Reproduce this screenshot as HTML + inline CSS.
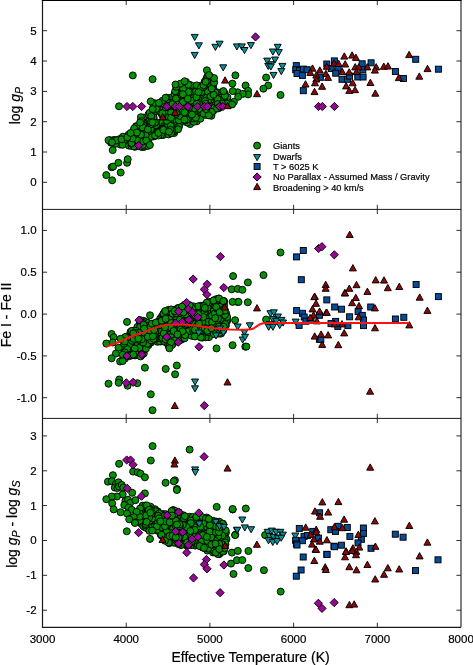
<!DOCTYPE html><html><head><meta charset="utf-8"><title>Effective Temperature plot</title>
<style>html,body{margin:0;padding:0;background:#fff}svg{display:block}text{font-family:"Liberation Sans",sans-serif;fill:#000;stroke:#000;stroke-width:0.2px}</style></head><body>
<svg width="473" height="665" viewBox="0 0 473 665">
<rect width="473" height="665" fill="#fff"/>
<g fill="#069006" stroke="#000" stroke-width="0.95" stroke-linejoin="miter"><circle cx="211.4" cy="89.1" r="3.5"/><circle cx="168.2" cy="124.2" r="3.5"/><circle cx="213.1" cy="86.8" r="3.5"/><circle cx="141.0" cy="120.8" r="3.5"/><circle cx="149.0" cy="124.8" r="3.5"/><circle cx="197.0" cy="114.0" r="3.5"/><circle cx="135.7" cy="143.1" r="3.5"/><circle cx="195.2" cy="102.5" r="3.5"/><circle cx="198.1" cy="96.4" r="3.5"/><circle cx="190.6" cy="107.2" r="3.5"/><circle cx="200.6" cy="98.2" r="3.5"/><circle cx="180.3" cy="122.9" r="3.5"/><circle cx="115.2" cy="143.5" r="3.5"/><circle cx="204.0" cy="102.2" r="3.5"/><circle cx="203.8" cy="89.2" r="3.5"/><circle cx="155.9" cy="132.6" r="3.5"/><circle cx="139.4" cy="132.4" r="3.5"/><circle cx="172.1" cy="110.9" r="3.5"/><circle cx="190.1" cy="96.0" r="3.5"/><circle cx="137.7" cy="145.6" r="3.5"/><circle cx="170.8" cy="97.8" r="3.5"/><circle cx="179.8" cy="94.9" r="3.5"/><circle cx="147.3" cy="141.9" r="3.5"/><circle cx="152.8" cy="126.9" r="3.5"/><circle cx="213.2" cy="111.1" r="3.5"/><circle cx="177.0" cy="125.0" r="3.5"/><circle cx="169.2" cy="121.4" r="3.5"/><circle cx="137.9" cy="132.7" r="3.5"/><circle cx="209.8" cy="76.2" r="3.5"/><circle cx="186.3" cy="119.1" r="3.5"/><circle cx="213.5" cy="102.2" r="3.5"/><circle cx="179.4" cy="95.6" r="3.5"/><circle cx="194.7" cy="98.4" r="3.5"/><circle cx="180.8" cy="91.3" r="3.5"/><circle cx="190.2" cy="124.1" r="3.5"/><circle cx="134.4" cy="128.6" r="3.5"/><circle cx="155.0" cy="131.9" r="3.5"/><circle cx="183.3" cy="106.7" r="3.5"/><circle cx="195.6" cy="98.2" r="3.5"/><circle cx="174.0" cy="111.7" r="3.5"/><circle cx="194.8" cy="87.0" r="3.5"/><circle cx="213.4" cy="102.0" r="3.5"/><circle cx="142.2" cy="136.5" r="3.5"/><circle cx="196.8" cy="121.3" r="3.5"/><circle cx="155.7" cy="132.7" r="3.5"/><circle cx="150.8" cy="127.1" r="3.5"/><circle cx="192.6" cy="87.1" r="3.5"/><circle cx="182.8" cy="107.4" r="3.5"/><circle cx="175.1" cy="93.5" r="3.5"/><circle cx="227.3" cy="100.7" r="3.5"/><circle cx="143.1" cy="117.6" r="3.5"/><circle cx="144.0" cy="146.9" r="3.5"/><circle cx="219.4" cy="107.8" r="3.5"/><circle cx="186.5" cy="115.1" r="3.5"/><circle cx="134.3" cy="130.0" r="3.5"/><circle cx="213.7" cy="81.5" r="3.5"/><circle cx="183.4" cy="103.7" r="3.5"/><circle cx="173.9" cy="120.2" r="3.5"/><circle cx="150.5" cy="119.4" r="3.5"/><circle cx="174.2" cy="133.0" r="3.5"/><circle cx="160.0" cy="106.4" r="3.5"/><circle cx="175.5" cy="109.5" r="3.5"/><circle cx="203.4" cy="102.8" r="3.5"/><circle cx="177.8" cy="118.6" r="3.5"/><circle cx="165.4" cy="108.3" r="3.5"/><circle cx="156.2" cy="124.1" r="3.5"/><circle cx="174.6" cy="121.2" r="3.5"/><circle cx="136.5" cy="127.2" r="3.5"/><circle cx="159.4" cy="109.0" r="3.5"/><circle cx="173.5" cy="131.6" r="3.5"/><circle cx="154.5" cy="136.1" r="3.5"/><circle cx="153.6" cy="131.1" r="3.5"/><circle cx="199.7" cy="103.8" r="3.5"/><circle cx="132.1" cy="137.4" r="3.5"/><circle cx="221.3" cy="104.8" r="3.5"/><circle cx="204.1" cy="104.9" r="3.5"/><circle cx="190.8" cy="116.8" r="3.5"/><circle cx="182.4" cy="112.5" r="3.5"/><circle cx="186.8" cy="91.5" r="3.5"/><circle cx="179.0" cy="126.8" r="3.5"/><circle cx="207.0" cy="89.4" r="3.5"/><circle cx="215.0" cy="96.7" r="3.5"/><circle cx="171.5" cy="106.0" r="3.5"/><circle cx="202.8" cy="91.5" r="3.5"/><circle cx="172.9" cy="109.4" r="3.5"/><circle cx="197.7" cy="113.1" r="3.5"/><circle cx="161.0" cy="122.9" r="3.5"/><circle cx="199.0" cy="86.2" r="3.5"/><circle cx="155.9" cy="125.2" r="3.5"/><circle cx="189.5" cy="91.3" r="3.5"/><circle cx="173.9" cy="130.2" r="3.5"/><circle cx="173.1" cy="115.5" r="3.5"/><circle cx="149.4" cy="125.5" r="3.5"/><circle cx="147.1" cy="122.7" r="3.5"/><circle cx="204.2" cy="96.4" r="3.5"/><circle cx="173.6" cy="119.7" r="3.5"/><circle cx="148.5" cy="114.3" r="3.5"/><circle cx="166.6" cy="129.7" r="3.5"/><circle cx="201.3" cy="93.8" r="3.5"/><circle cx="220.3" cy="92.6" r="3.5"/><circle cx="189.5" cy="87.1" r="3.5"/><circle cx="196.2" cy="100.4" r="3.5"/><circle cx="137.9" cy="133.0" r="3.5"/><circle cx="142.0" cy="137.8" r="3.5"/><circle cx="168.5" cy="129.5" r="3.5"/><circle cx="128.4" cy="134.8" r="3.5"/><circle cx="211.4" cy="115.8" r="3.5"/><circle cx="156.9" cy="105.8" r="3.5"/><circle cx="113.8" cy="143.3" r="3.5"/><circle cx="130.8" cy="138.3" r="3.5"/><circle cx="128.8" cy="145.6" r="3.5"/><circle cx="197.0" cy="118.0" r="3.5"/><circle cx="171.8" cy="102.6" r="3.5"/><circle cx="166.6" cy="97.6" r="3.5"/><circle cx="175.0" cy="106.8" r="3.5"/><circle cx="183.1" cy="119.4" r="3.5"/><circle cx="177.8" cy="97.3" r="3.5"/><circle cx="148.9" cy="121.6" r="3.5"/><circle cx="167.8" cy="122.5" r="3.5"/><circle cx="178.7" cy="114.0" r="3.5"/><circle cx="157.1" cy="104.5" r="3.5"/><circle cx="174.5" cy="94.2" r="3.5"/><circle cx="193.1" cy="88.5" r="3.5"/><circle cx="153.0" cy="115.6" r="3.5"/><circle cx="206.5" cy="78.3" r="3.5"/><circle cx="152.4" cy="132.3" r="3.5"/><circle cx="194.9" cy="97.0" r="3.5"/><circle cx="187.1" cy="118.5" r="3.5"/><circle cx="175.9" cy="104.8" r="3.5"/><circle cx="219.9" cy="102.4" r="3.5"/><circle cx="160.7" cy="112.7" r="3.5"/><circle cx="190.0" cy="112.1" r="3.5"/><circle cx="216.2" cy="97.2" r="3.5"/><circle cx="168.4" cy="115.6" r="3.5"/><circle cx="172.1" cy="113.1" r="3.5"/><circle cx="175.5" cy="107.6" r="3.5"/><circle cx="207.1" cy="80.9" r="3.5"/><circle cx="185.7" cy="92.1" r="3.5"/><circle cx="193.0" cy="115.7" r="3.5"/><circle cx="184.5" cy="112.8" r="3.5"/><circle cx="209.1" cy="115.0" r="3.5"/><circle cx="207.6" cy="87.7" r="3.5"/><circle cx="169.8" cy="126.9" r="3.5"/><circle cx="133.4" cy="139.8" r="3.5"/><circle cx="141.1" cy="142.6" r="3.5"/><circle cx="163.1" cy="135.0" r="3.5"/><circle cx="217.5" cy="106.1" r="3.5"/><circle cx="168.5" cy="134.4" r="3.5"/><circle cx="173.0" cy="115.1" r="3.5"/><circle cx="218.3" cy="105.3" r="3.5"/><circle cx="192.6" cy="93.2" r="3.5"/><circle cx="192.7" cy="119.6" r="3.5"/><circle cx="163.9" cy="126.3" r="3.5"/><circle cx="144.3" cy="138.7" r="3.5"/><circle cx="119.4" cy="139.2" r="3.5"/><circle cx="183.6" cy="103.1" r="3.5"/><circle cx="170.1" cy="120.9" r="3.5"/><circle cx="177.7" cy="104.8" r="3.5"/><circle cx="186.0" cy="81.9" r="3.5"/><circle cx="207.5" cy="76.3" r="3.5"/><circle cx="201.8" cy="111.9" r="3.5"/><circle cx="173.8" cy="111.2" r="3.5"/><circle cx="190.1" cy="115.4" r="3.5"/><circle cx="175.4" cy="110.0" r="3.5"/><circle cx="201.2" cy="112.9" r="3.5"/><circle cx="156.9" cy="107.5" r="3.5"/><circle cx="166.7" cy="115.3" r="3.5"/><circle cx="153.8" cy="136.3" r="3.5"/><circle cx="162.1" cy="115.0" r="3.5"/><circle cx="150.0" cy="124.1" r="3.5"/><circle cx="158.8" cy="134.0" r="3.5"/><circle cx="178.1" cy="129.3" r="3.5"/><circle cx="204.7" cy="103.0" r="3.5"/><circle cx="211.8" cy="90.7" r="3.5"/><circle cx="140.6" cy="123.6" r="3.5"/><circle cx="138.2" cy="133.3" r="3.5"/><circle cx="214.2" cy="107.9" r="3.5"/><circle cx="209.5" cy="102.4" r="3.5"/><circle cx="221.6" cy="97.7" r="3.5"/><circle cx="201.4" cy="86.2" r="3.5"/><circle cx="143.9" cy="123.6" r="3.5"/><circle cx="192.5" cy="92.4" r="3.5"/><circle cx="225.5" cy="103.2" r="3.5"/><circle cx="191.5" cy="112.1" r="3.5"/><circle cx="179.2" cy="90.5" r="3.5"/><circle cx="160.7" cy="130.5" r="3.5"/><circle cx="186.0" cy="89.1" r="3.5"/><circle cx="138.8" cy="140.6" r="3.5"/><circle cx="161.0" cy="135.0" r="3.5"/><circle cx="193.7" cy="93.8" r="3.5"/><circle cx="167.1" cy="121.6" r="3.5"/><circle cx="189.3" cy="85.0" r="3.5"/><circle cx="193.1" cy="91.5" r="3.5"/><circle cx="167.1" cy="113.4" r="3.5"/><circle cx="152.9" cy="113.5" r="3.5"/><circle cx="199.8" cy="103.4" r="3.5"/><circle cx="200.4" cy="118.7" r="3.5"/><circle cx="193.6" cy="87.2" r="3.5"/><circle cx="178.1" cy="108.4" r="3.5"/><circle cx="113.9" cy="139.9" r="3.5"/><circle cx="207.7" cy="104.9" r="3.5"/><circle cx="227.4" cy="97.3" r="3.5"/><circle cx="187.2" cy="122.6" r="3.5"/><circle cx="136.2" cy="126.2" r="3.5"/><circle cx="210.7" cy="91.1" r="3.5"/><circle cx="141.8" cy="147.0" r="3.5"/><circle cx="192.9" cy="115.8" r="3.5"/><circle cx="141.5" cy="126.1" r="3.5"/><circle cx="212.2" cy="111.8" r="3.5"/><circle cx="203.6" cy="111.5" r="3.5"/><circle cx="224.1" cy="98.5" r="3.5"/><circle cx="162.5" cy="128.5" r="3.5"/><circle cx="146.9" cy="130.4" r="3.5"/><circle cx="165.7" cy="127.4" r="3.5"/><circle cx="190.4" cy="104.7" r="3.5"/><circle cx="205.7" cy="115.0" r="3.5"/><circle cx="144.9" cy="131.9" r="3.5"/><circle cx="198.3" cy="88.0" r="3.5"/><circle cx="196.1" cy="116.5" r="3.5"/><circle cx="131.5" cy="146.0" r="3.5"/><circle cx="156.0" cy="122.0" r="3.5"/><circle cx="183.4" cy="94.5" r="3.5"/><circle cx="202.3" cy="110.0" r="3.5"/><circle cx="174.8" cy="107.7" r="3.5"/><circle cx="153.6" cy="106.9" r="3.5"/><circle cx="212.1" cy="91.3" r="3.5"/><circle cx="157.9" cy="131.8" r="3.5"/><circle cx="210.6" cy="99.6" r="3.5"/><circle cx="142.4" cy="139.6" r="3.5"/><circle cx="179.0" cy="117.5" r="3.5"/><circle cx="188.1" cy="99.2" r="3.5"/><circle cx="109.9" cy="140.5" r="3.5"/><circle cx="165.9" cy="104.4" r="3.5"/><circle cx="151.6" cy="120.7" r="3.5"/><circle cx="163.2" cy="128.9" r="3.5"/><circle cx="216.5" cy="97.6" r="3.5"/><circle cx="186.9" cy="96.6" r="3.5"/><circle cx="156.1" cy="108.8" r="3.5"/><circle cx="150.9" cy="129.1" r="3.5"/><circle cx="162.3" cy="113.3" r="3.5"/><circle cx="178.8" cy="120.3" r="3.5"/><circle cx="149.7" cy="112.7" r="3.5"/><circle cx="183.1" cy="106.8" r="3.5"/><circle cx="134.9" cy="146.8" r="3.5"/><circle cx="200.5" cy="109.2" r="3.5"/><circle cx="110.9" cy="142.6" r="3.5"/><circle cx="145.4" cy="126.4" r="3.5"/><circle cx="138.7" cy="134.2" r="3.5"/><circle cx="191.1" cy="114.0" r="3.5"/><circle cx="220.3" cy="100.4" r="3.5"/><circle cx="113.2" cy="142.0" r="3.5"/><circle cx="164.1" cy="100.6" r="3.5"/><circle cx="141.8" cy="126.4" r="3.5"/><circle cx="188.2" cy="91.0" r="3.5"/><circle cx="203.8" cy="86.8" r="3.5"/><circle cx="193.9" cy="121.8" r="3.5"/><circle cx="148.3" cy="140.7" r="3.5"/><circle cx="168.8" cy="117.0" r="3.5"/><circle cx="134.0" cy="146.3" r="3.5"/><circle cx="207.4" cy="91.5" r="3.5"/><circle cx="191.1" cy="108.2" r="3.5"/><circle cx="179.9" cy="115.9" r="3.5"/><circle cx="158.4" cy="135.5" r="3.5"/><circle cx="176.0" cy="98.4" r="3.5"/><circle cx="171.1" cy="111.8" r="3.5"/><circle cx="225.6" cy="102.6" r="3.5"/><circle cx="200.1" cy="89.7" r="3.5"/><circle cx="151.7" cy="136.6" r="3.5"/><circle cx="208.4" cy="100.0" r="3.5"/><circle cx="176.4" cy="85.7" r="3.5"/><circle cx="204.7" cy="81.6" r="3.5"/><circle cx="217.0" cy="92.3" r="3.5"/><circle cx="168.2" cy="103.1" r="3.5"/><circle cx="155.0" cy="135.6" r="3.5"/><circle cx="191.6" cy="110.4" r="3.5"/><circle cx="147.9" cy="145.9" r="3.5"/><circle cx="224.8" cy="93.5" r="3.5"/><circle cx="119.7" cy="139.5" r="3.5"/><circle cx="143.0" cy="124.8" r="3.5"/><circle cx="120.2" cy="144.5" r="3.5"/><circle cx="172.3" cy="131.8" r="3.5"/><circle cx="226.7" cy="103.7" r="3.5"/><circle cx="196.8" cy="89.6" r="3.5"/><circle cx="154.6" cy="103.2" r="3.5"/><circle cx="130.2" cy="139.6" r="3.5"/><circle cx="201.2" cy="92.2" r="3.5"/><circle cx="203.9" cy="84.9" r="3.5"/><circle cx="193.4" cy="118.4" r="3.5"/><circle cx="210.7" cy="96.3" r="3.5"/><circle cx="131.4" cy="143.5" r="3.5"/><circle cx="140.8" cy="146.4" r="3.5"/><circle cx="190.0" cy="88.7" r="3.5"/><circle cx="193.8" cy="92.5" r="3.5"/><circle cx="139.1" cy="138.9" r="3.5"/><circle cx="145.6" cy="141.5" r="3.5"/><circle cx="185.1" cy="89.7" r="3.5"/><circle cx="140.9" cy="117.2" r="3.5"/><circle cx="202.6" cy="104.6" r="3.5"/><circle cx="151.0" cy="124.3" r="3.5"/><circle cx="142.9" cy="144.9" r="3.5"/><circle cx="177.1" cy="90.7" r="3.5"/><circle cx="137.9" cy="140.2" r="3.5"/><circle cx="203.5" cy="87.1" r="3.5"/><circle cx="190.8" cy="85.2" r="3.5"/><circle cx="170.7" cy="125.9" r="3.5"/><circle cx="176.6" cy="88.8" r="3.5"/><circle cx="217.6" cy="99.1" r="3.5"/><circle cx="173.0" cy="112.5" r="3.5"/><circle cx="132.8" cy="136.2" r="3.5"/><circle cx="158.4" cy="132.9" r="3.5"/><circle cx="131.5" cy="143.1" r="3.5"/><circle cx="143.3" cy="141.4" r="3.5"/><circle cx="187.0" cy="115.7" r="3.5"/><circle cx="196.7" cy="85.4" r="3.5"/><circle cx="194.6" cy="108.3" r="3.5"/><circle cx="153.0" cy="103.8" r="3.5"/><circle cx="190.3" cy="97.7" r="3.5"/><circle cx="153.6" cy="117.3" r="3.5"/><circle cx="189.0" cy="107.3" r="3.5"/><circle cx="221.9" cy="103.5" r="3.5"/><circle cx="196.0" cy="91.6" r="3.5"/><circle cx="205.0" cy="101.1" r="3.5"/><circle cx="179.8" cy="110.9" r="3.5"/><circle cx="217.7" cy="104.1" r="3.5"/><circle cx="148.0" cy="131.6" r="3.5"/><circle cx="181.8" cy="95.3" r="3.5"/><circle cx="171.0" cy="112.5" r="3.5"/><circle cx="224.9" cy="95.9" r="3.5"/><circle cx="196.6" cy="103.7" r="3.5"/><circle cx="115.3" cy="143.8" r="3.5"/><circle cx="124.1" cy="140.1" r="3.5"/><circle cx="212.9" cy="89.4" r="3.5"/><circle cx="146.3" cy="129.2" r="3.5"/><circle cx="205.6" cy="103.8" r="3.5"/><circle cx="187.7" cy="104.8" r="3.5"/><circle cx="164.2" cy="104.2" r="3.5"/><circle cx="181.6" cy="94.6" r="3.5"/><circle cx="169.7" cy="105.5" r="3.5"/><circle cx="142.1" cy="127.5" r="3.5"/><circle cx="154.9" cy="122.8" r="3.5"/><circle cx="142.6" cy="127.3" r="3.5"/><circle cx="215.3" cy="92.5" r="3.5"/><circle cx="116.6" cy="140.2" r="3.5"/><circle cx="203.5" cy="113.6" r="3.5"/><circle cx="172.5" cy="104.3" r="3.5"/><circle cx="193.7" cy="98.0" r="3.5"/><circle cx="175.2" cy="91.2" r="3.5"/><circle cx="151.3" cy="116.2" r="3.5"/><circle cx="171.1" cy="133.2" r="3.5"/><circle cx="176.1" cy="113.8" r="3.5"/><circle cx="171.0" cy="117.8" r="3.5"/><circle cx="184.0" cy="101.7" r="3.5"/><circle cx="145.7" cy="135.4" r="3.5"/><circle cx="188.5" cy="92.0" r="3.5"/><circle cx="190.8" cy="100.6" r="3.5"/><circle cx="152.6" cy="109.1" r="3.5"/><circle cx="170.4" cy="129.9" r="3.5"/><circle cx="162.4" cy="100.8" r="3.5"/><circle cx="201.0" cy="87.3" r="3.5"/><circle cx="182.9" cy="110.2" r="3.5"/><circle cx="136.1" cy="126.5" r="3.5"/><circle cx="182.8" cy="102.1" r="3.5"/><circle cx="134.2" cy="128.4" r="3.5"/><circle cx="116.5" cy="140.3" r="3.5"/><circle cx="158.9" cy="102.9" r="3.5"/><circle cx="205.9" cy="109.1" r="3.5"/><circle cx="188.4" cy="118.3" r="3.5"/><circle cx="213.6" cy="94.7" r="3.5"/><circle cx="147.9" cy="129.5" r="3.5"/><circle cx="208.8" cy="115.3" r="3.5"/><circle cx="146.3" cy="140.5" r="3.5"/><circle cx="183.1" cy="88.6" r="3.5"/><circle cx="151.0" cy="122.2" r="3.5"/><circle cx="218.1" cy="108.4" r="3.5"/><circle cx="122.9" cy="136.7" r="3.5"/><circle cx="163.3" cy="129.9" r="3.5"/><circle cx="211.7" cy="88.5" r="3.5"/><circle cx="195.7" cy="117.7" r="3.5"/><circle cx="141.0" cy="134.7" r="3.5"/><circle cx="136.8" cy="132.5" r="3.5"/><circle cx="196.4" cy="97.0" r="3.5"/><circle cx="192.0" cy="114.5" r="3.5"/><circle cx="110.1" cy="140.3" r="3.5"/><circle cx="185.1" cy="120.5" r="3.5"/><circle cx="186.7" cy="119.6" r="3.5"/><circle cx="203.5" cy="85.2" r="3.5"/><circle cx="152.5" cy="122.4" r="3.5"/><circle cx="188.4" cy="84.7" r="3.5"/><circle cx="122.5" cy="144.8" r="3.5"/><circle cx="184.5" cy="119.7" r="3.5"/><circle cx="176.2" cy="86.8" r="3.5"/><circle cx="217.1" cy="108.4" r="3.5"/><circle cx="121.5" cy="139.3" r="3.5"/><circle cx="169.0" cy="131.7" r="3.5"/><circle cx="141.4" cy="121.1" r="3.5"/><circle cx="140.1" cy="122.5" r="3.5"/><circle cx="187.8" cy="98.8" r="3.5"/><circle cx="180.3" cy="83.7" r="3.5"/><circle cx="132.4" cy="138.4" r="3.5"/><circle cx="184.5" cy="112.3" r="3.5"/><circle cx="127.3" cy="137.3" r="3.5"/><circle cx="130.6" cy="133.0" r="3.5"/><circle cx="182.9" cy="94.2" r="3.5"/><circle cx="198.5" cy="92.1" r="3.5"/><circle cx="106.3" cy="175.1" r="3.5"/><circle cx="112.1" cy="180.3" r="3.5"/><circle cx="120.7" cy="172.5" r="3.5"/><circle cx="111.6" cy="167.2" r="3.5"/><circle cx="113.1" cy="166.6" r="3.5"/><circle cx="118.4" cy="162.8" r="3.5"/><circle cx="127.1" cy="162.8" r="3.5"/><circle cx="127.7" cy="159.2" r="3.5"/><circle cx="112.7" cy="150.1" r="3.5"/><circle cx="108.5" cy="140.2" r="3.5"/><circle cx="112.0" cy="142.3" r="3.5"/><circle cx="149.9" cy="145.0" r="3.5"/><circle cx="119.0" cy="106.3" r="3.5"/><circle cx="132.8" cy="75.4" r="3.5"/><circle cx="152.6" cy="79.2" r="3.5"/><circle cx="184.6" cy="81.3" r="3.5"/><circle cx="175.5" cy="84.5" r="3.5"/><circle cx="150.7" cy="101.4" r="3.5"/><circle cx="165.5" cy="97.8" r="3.5"/><circle cx="206.9" cy="70.3" r="3.5"/><circle cx="235.4" cy="75.3" r="3.5"/><circle cx="266.1" cy="77.5" r="3.5"/><circle cx="268.2" cy="85.5" r="3.5"/><circle cx="263.4" cy="88.7" r="3.5"/><circle cx="280.5" cy="95.0" r="3.5"/><circle cx="245.6" cy="85.5" r="3.5"/><circle cx="248.1" cy="90.8" r="3.5"/><circle cx="248.1" cy="94.4" r="3.5"/><circle cx="232.4" cy="83.6" r="3.5"/><circle cx="237.7" cy="92.3" r="3.5"/><circle cx="242.8" cy="93.9" r="3.5"/><circle cx="233.9" cy="101.8" r="3.5"/><circle cx="238.2" cy="96.8" r="3.5"/><circle cx="232.1" cy="104.4" r="3.5"/><circle cx="232.7" cy="91.1" r="3.5"/><circle cx="223.4" cy="91.1" r="3.5"/><circle cx="214.1" cy="82.7" r="3.5"/><circle cx="214.1" cy="78.1" r="3.5"/><circle cx="209.0" cy="75.0" r="3.5"/><circle cx="205.7" cy="81.8" r="3.5"/></g>
<g fill="#08929a" stroke="#000" stroke-width="0.95" stroke-linejoin="miter"><path d="M194.7 40.5L198.2 34.4L191.2 34.4Z"/><path d="M198.9 48.9L202.4 42.8L195.4 42.8Z"/><path d="M194.7 58.5L198.2 52.4L191.2 52.4Z"/><path d="M215.4 50.4L218.9 44.3L211.9 44.3Z"/><path d="M219.6 47.3L223.1 41.2L216.1 41.2Z"/><path d="M236.9 50.0L240.4 43.9L233.4 43.9Z"/><path d="M241.8 50.0L245.3 43.9L238.3 43.9Z"/><path d="M244.5 53.6L248.0 47.5L241.0 47.5Z"/><path d="M250.9 48.7L254.4 42.6L247.4 42.6Z"/><path d="M223.2 70.9L226.7 64.8L219.7 64.8Z"/><path d="M277.7 50.4L281.2 44.3L274.2 44.3Z"/><path d="M272.9 55.1L276.4 49.0L269.4 49.0Z"/><path d="M278.8 55.7L282.3 49.6L275.3 49.6Z"/><path d="M275.0 63.1L278.5 57.0L271.5 57.0Z"/><path d="M267.2 64.2L270.7 58.1L263.7 58.1Z"/><path d="M271.4 67.8L274.9 61.7L267.9 61.7Z"/><path d="M268.2 69.5L271.7 63.4L264.7 63.4Z"/><path d="M270.8 70.1L274.3 64.0L267.3 64.0Z"/><path d="M282.4 69.5L285.9 63.4L278.9 63.4Z"/><path d="M281.3 74.7L284.8 68.6L277.8 68.6Z"/><path d="M273.5 78.5L277.0 72.4L270.0 72.4Z"/></g>
<g fill="#044c9c" stroke="#000" stroke-width="0.95" stroke-linejoin="miter"><rect x="293.3" y="62.6" width="6" height="6"/><rect x="292.7" y="66.7" width="6" height="6"/><rect x="296.5" y="67.4" width="6" height="6"/><rect x="294.0" y="70.5" width="6" height="6"/><rect x="299.4" y="72.4" width="6" height="6"/><rect x="300.3" y="66.1" width="6" height="6"/><rect x="304.1" y="66.7" width="6" height="6"/><rect x="300.3" y="87.7" width="6" height="6"/><rect x="323.8" y="61.0" width="6" height="6"/><rect x="331.4" y="57.9" width="6" height="6"/><rect x="328.2" y="65.5" width="6" height="6"/><rect x="335.2" y="66.1" width="6" height="6"/><rect x="332.7" y="70.2" width="6" height="6"/><rect x="339.0" y="76.3" width="6" height="6"/><rect x="344.4" y="76.3" width="6" height="6"/><rect x="317.4" y="74.3" width="6" height="6"/><rect x="359.2" y="60.8" width="6" height="6"/><rect x="368.1" y="59.8" width="6" height="6"/><rect x="359.8" y="66.7" width="6" height="6"/><rect x="346.5" y="73.1" width="6" height="6"/><rect x="354.8" y="74.0" width="6" height="6"/><rect x="360.1" y="74.0" width="6" height="6"/><rect x="392.4" y="68.5" width="6" height="6"/><rect x="412.7" y="56.3" width="6" height="6"/><rect x="400.5" y="75.5" width="6" height="6"/><rect x="435.4" y="66.2" width="6" height="6"/></g>
<g fill="#980698" stroke="#000" stroke-width="0.95" stroke-linejoin="miter"><path d="M255.5 32.8L259.6 36.9L255.5 41.0L251.4 36.9Z"/><path d="M138.7 141.4L142.8 145.5L138.7 149.6L134.6 145.5Z"/><path d="M318.5 102.4L322.6 106.5L318.5 110.6L314.4 106.5Z"/><path d="M322.3 102.4L326.4 106.5L322.3 110.6L318.2 106.5Z"/><path d="M334.4 102.4L338.5 106.5L334.4 110.6L330.3 106.5Z"/><path d="M127.0 102.4L131.1 106.5L127.0 110.6L122.9 106.5Z"/><path d="M132.8 102.4L136.9 106.5L132.8 110.6L128.7 106.5Z"/><path d="M141.6 102.4L145.7 106.5L141.6 110.6L137.5 106.5Z"/><path d="M166.8 102.4L170.9 106.5L166.8 110.6L162.7 106.5Z"/><path d="M175.3 102.4L179.4 106.5L175.3 110.6L171.2 106.5Z"/><path d="M179.5 102.4L183.6 106.5L179.5 110.6L175.4 106.5Z"/><path d="M187.9 102.4L192.0 106.5L187.9 110.6L183.8 106.5Z"/><path d="M197.3 102.4L201.4 106.5L197.3 110.6L193.2 106.5Z"/><path d="M204.3 102.4L208.4 106.5L204.3 110.6L200.2 106.5Z"/><path d="M207.4 102.4L211.5 106.5L207.4 110.6L203.3 106.5Z"/><path d="M219.3 102.4L223.4 106.5L219.3 110.6L215.2 106.5Z"/><path d="M222.9 102.4L227.0 106.5L222.9 110.6L218.8 106.5Z"/></g>
<g fill="#8e0808" stroke="#000" stroke-width="0.95" stroke-linejoin="miter"><path d="M162.7 113.6L166.2 119.9L159.2 119.9Z"/><path d="M175.1 109.1L178.6 115.4L171.6 115.4Z"/><path d="M225.1 76.8L228.6 83.1L221.6 83.1Z"/><path d="M257.0 90.4L260.5 96.7L253.5 96.7Z"/><path d="M227.6 102.4L231.1 108.7L224.1 108.7Z"/><path d="M344.3 52.8L347.8 59.1L340.8 59.1Z"/><path d="M312.5 64.9L316.0 71.2L309.0 71.2Z"/><path d="M310.3 69.1L313.8 75.4L306.8 75.4Z"/><path d="M319.8 66.8L323.3 73.1L316.3 73.1Z"/><path d="M326.8 63.0L330.3 69.3L323.3 69.3Z"/><path d="M334.1 59.8L337.6 66.1L330.6 66.1Z"/><path d="M338.6 60.2L342.1 66.5L335.1 66.5Z"/><path d="M345.2 60.7L348.7 67.0L341.7 67.0Z"/><path d="M342.3 68.3L345.8 74.6L338.8 74.6Z"/><path d="M349.2 68.7L352.7 75.0L345.7 75.0Z"/><path d="M325.9 70.3L329.4 76.6L322.4 76.6Z"/><path d="M328.0 74.1L331.5 80.4L324.5 80.4Z"/><path d="M316.3 71.8L319.8 78.1L312.8 78.1Z"/><path d="M316.3 75.7L319.8 82.0L312.8 82.0Z"/><path d="M315.0 79.5L318.5 85.8L311.5 85.8Z"/><path d="M305.5 80.7L309.0 87.0L302.0 87.0Z"/><path d="M322.1 83.0L325.6 89.3L318.6 89.3Z"/><path d="M314.5 88.3L318.0 94.6L311.0 94.6Z"/><path d="M346.1 82.6L349.6 88.9L342.6 88.9Z"/><path d="M349.3 87.1L352.8 93.4L345.8 93.4Z"/><path d="M352.1 51.8L355.6 58.1L348.6 58.1Z"/><path d="M355.9 54.1L359.4 60.4L352.4 60.4Z"/><path d="M355.2 63.6L358.7 69.9L351.7 69.9Z"/><path d="M358.8 63.6L362.3 69.9L355.3 69.9Z"/><path d="M367.3 63.6L370.8 69.9L363.8 69.9Z"/><path d="M376.2 63.6L379.7 69.9L372.7 69.9Z"/><path d="M374.9 66.8L378.4 73.1L371.4 73.1Z"/><path d="M383.8 63.0L387.3 69.3L380.3 69.3Z"/><path d="M388.0 62.7L391.5 69.0L384.5 69.0Z"/><path d="M356.5 68.3L360.0 74.6L353.0 74.6Z"/><path d="M352.7 79.5L356.2 85.8L349.2 85.8Z"/><path d="M355.0 86.4L358.5 92.7L351.5 92.7Z"/><path d="M370.4 79.2L373.9 85.5L366.9 85.5Z"/><path d="M375.3 89.9L378.8 96.2L371.8 96.2Z"/><path d="M398.8 74.3L402.3 80.6L395.3 80.6Z"/><path d="M409.1 51.3L412.6 57.6L405.6 57.6Z"/><path d="M419.3 72.9L422.8 79.2L415.8 79.2Z"/><path d="M427.5 65.3L431.0 71.6L424.0 71.6Z"/></g>
<g fill="#069006" stroke="#000" stroke-width="0.95" stroke-linejoin="miter"><circle cx="140.7" cy="354.7" r="3.5"/><circle cx="219.9" cy="327.9" r="3.5"/><circle cx="188.4" cy="313.4" r="3.5"/><circle cx="142.6" cy="339.6" r="3.5"/><circle cx="142.3" cy="354.6" r="3.5"/><circle cx="183.7" cy="325.5" r="3.5"/><circle cx="127.4" cy="344.6" r="3.5"/><circle cx="186.5" cy="305.6" r="3.5"/><circle cx="124.6" cy="348.4" r="3.5"/><circle cx="131.1" cy="332.7" r="3.5"/><circle cx="198.1" cy="326.7" r="3.5"/><circle cx="197.7" cy="327.0" r="3.5"/><circle cx="173.6" cy="327.0" r="3.5"/><circle cx="220.1" cy="312.3" r="3.5"/><circle cx="216.5" cy="315.6" r="3.5"/><circle cx="157.3" cy="337.7" r="3.5"/><circle cx="176.4" cy="311.7" r="3.5"/><circle cx="190.4" cy="313.7" r="3.5"/><circle cx="158.6" cy="332.9" r="3.5"/><circle cx="160.9" cy="341.5" r="3.5"/><circle cx="129.9" cy="337.9" r="3.5"/><circle cx="175.6" cy="330.3" r="3.5"/><circle cx="202.5" cy="316.7" r="3.5"/><circle cx="213.7" cy="312.6" r="3.5"/><circle cx="215.7" cy="312.6" r="3.5"/><circle cx="226.0" cy="313.0" r="3.5"/><circle cx="223.0" cy="318.0" r="3.5"/><circle cx="209.8" cy="326.2" r="3.5"/><circle cx="225.9" cy="325.4" r="3.5"/><circle cx="164.1" cy="324.2" r="3.5"/><circle cx="160.2" cy="318.5" r="3.5"/><circle cx="124.4" cy="341.7" r="3.5"/><circle cx="152.4" cy="339.8" r="3.5"/><circle cx="176.3" cy="309.9" r="3.5"/><circle cx="136.2" cy="346.6" r="3.5"/><circle cx="211.2" cy="329.1" r="3.5"/><circle cx="210.4" cy="305.9" r="3.5"/><circle cx="211.5" cy="334.3" r="3.5"/><circle cx="148.1" cy="323.2" r="3.5"/><circle cx="190.8" cy="319.7" r="3.5"/><circle cx="203.1" cy="305.5" r="3.5"/><circle cx="139.5" cy="324.2" r="3.5"/><circle cx="139.4" cy="336.2" r="3.5"/><circle cx="136.7" cy="353.0" r="3.5"/><circle cx="129.6" cy="356.1" r="3.5"/><circle cx="167.0" cy="333.9" r="3.5"/><circle cx="223.9" cy="302.4" r="3.5"/><circle cx="164.8" cy="319.1" r="3.5"/><circle cx="224.0" cy="316.1" r="3.5"/><circle cx="135.1" cy="355.4" r="3.5"/><circle cx="163.2" cy="326.1" r="3.5"/><circle cx="207.7" cy="317.2" r="3.5"/><circle cx="190.7" cy="329.8" r="3.5"/><circle cx="191.4" cy="313.2" r="3.5"/><circle cx="172.7" cy="320.4" r="3.5"/><circle cx="216.2" cy="332.7" r="3.5"/><circle cx="218.6" cy="308.5" r="3.5"/><circle cx="164.3" cy="341.7" r="3.5"/><circle cx="160.6" cy="339.3" r="3.5"/><circle cx="186.4" cy="334.1" r="3.5"/><circle cx="216.5" cy="299.1" r="3.5"/><circle cx="143.8" cy="353.4" r="3.5"/><circle cx="174.9" cy="328.6" r="3.5"/><circle cx="153.2" cy="326.3" r="3.5"/><circle cx="130.5" cy="331.9" r="3.5"/><circle cx="175.7" cy="331.1" r="3.5"/><circle cx="167.3" cy="336.4" r="3.5"/><circle cx="222.5" cy="320.5" r="3.5"/><circle cx="141.1" cy="327.8" r="3.5"/><circle cx="212.0" cy="322.3" r="3.5"/><circle cx="159.7" cy="328.2" r="3.5"/><circle cx="185.9" cy="317.3" r="3.5"/><circle cx="127.5" cy="338.5" r="3.5"/><circle cx="215.9" cy="301.7" r="3.5"/><circle cx="185.1" cy="332.9" r="3.5"/><circle cx="167.7" cy="343.6" r="3.5"/><circle cx="126.4" cy="336.9" r="3.5"/><circle cx="172.8" cy="334.8" r="3.5"/><circle cx="145.5" cy="335.1" r="3.5"/><circle cx="170.0" cy="322.1" r="3.5"/><circle cx="189.0" cy="319.3" r="3.5"/><circle cx="144.6" cy="349.5" r="3.5"/><circle cx="130.4" cy="340.7" r="3.5"/><circle cx="132.6" cy="355.1" r="3.5"/><circle cx="143.5" cy="320.8" r="3.5"/><circle cx="213.2" cy="324.9" r="3.5"/><circle cx="181.4" cy="325.2" r="3.5"/><circle cx="186.0" cy="306.3" r="3.5"/><circle cx="222.9" cy="321.5" r="3.5"/><circle cx="164.3" cy="312.4" r="3.5"/><circle cx="215.7" cy="328.1" r="3.5"/><circle cx="162.0" cy="316.0" r="3.5"/><circle cx="216.0" cy="332.4" r="3.5"/><circle cx="180.9" cy="309.1" r="3.5"/><circle cx="173.4" cy="317.1" r="3.5"/><circle cx="173.5" cy="318.4" r="3.5"/><circle cx="158.0" cy="322.9" r="3.5"/><circle cx="141.0" cy="329.6" r="3.5"/><circle cx="162.2" cy="323.0" r="3.5"/><circle cx="130.4" cy="336.6" r="3.5"/><circle cx="213.6" cy="330.6" r="3.5"/><circle cx="208.0" cy="331.3" r="3.5"/><circle cx="148.4" cy="345.2" r="3.5"/><circle cx="163.3" cy="315.6" r="3.5"/><circle cx="224.4" cy="310.0" r="3.5"/><circle cx="227.1" cy="321.0" r="3.5"/><circle cx="184.1" cy="335.5" r="3.5"/><circle cx="152.3" cy="338.6" r="3.5"/><circle cx="204.3" cy="312.8" r="3.5"/><circle cx="213.5" cy="319.9" r="3.5"/><circle cx="208.7" cy="324.9" r="3.5"/><circle cx="188.9" cy="330.5" r="3.5"/><circle cx="138.4" cy="351.1" r="3.5"/><circle cx="174.2" cy="328.5" r="3.5"/><circle cx="216.2" cy="309.8" r="3.5"/><circle cx="127.6" cy="346.3" r="3.5"/><circle cx="218.5" cy="317.3" r="3.5"/><circle cx="170.8" cy="334.1" r="3.5"/><circle cx="146.7" cy="334.0" r="3.5"/><circle cx="169.0" cy="328.2" r="3.5"/><circle cx="182.6" cy="335.5" r="3.5"/><circle cx="217.7" cy="323.8" r="3.5"/><circle cx="180.6" cy="320.2" r="3.5"/><circle cx="184.4" cy="317.8" r="3.5"/><circle cx="141.4" cy="340.3" r="3.5"/><circle cx="201.8" cy="310.2" r="3.5"/><circle cx="167.9" cy="343.8" r="3.5"/><circle cx="195.4" cy="318.3" r="3.5"/><circle cx="181.1" cy="339.8" r="3.5"/><circle cx="215.1" cy="327.9" r="3.5"/><circle cx="216.9" cy="333.8" r="3.5"/><circle cx="193.2" cy="334.2" r="3.5"/><circle cx="209.0" cy="337.1" r="3.5"/><circle cx="140.4" cy="328.7" r="3.5"/><circle cx="205.7" cy="337.3" r="3.5"/><circle cx="217.8" cy="310.6" r="3.5"/><circle cx="169.1" cy="347.0" r="3.5"/><circle cx="188.3" cy="331.3" r="3.5"/><circle cx="219.5" cy="333.5" r="3.5"/><circle cx="217.2" cy="301.4" r="3.5"/><circle cx="172.5" cy="338.8" r="3.5"/><circle cx="189.9" cy="307.3" r="3.5"/><circle cx="126.5" cy="336.6" r="3.5"/><circle cx="181.9" cy="338.5" r="3.5"/><circle cx="207.7" cy="331.9" r="3.5"/><circle cx="179.5" cy="325.1" r="3.5"/><circle cx="140.3" cy="320.2" r="3.5"/><circle cx="140.2" cy="333.8" r="3.5"/><circle cx="215.2" cy="329.2" r="3.5"/><circle cx="169.8" cy="341.4" r="3.5"/><circle cx="226.9" cy="319.6" r="3.5"/><circle cx="212.4" cy="307.9" r="3.5"/><circle cx="168.3" cy="338.5" r="3.5"/><circle cx="193.5" cy="308.9" r="3.5"/><circle cx="208.2" cy="321.8" r="3.5"/><circle cx="183.1" cy="312.4" r="3.5"/><circle cx="180.6" cy="314.7" r="3.5"/><circle cx="137.9" cy="344.3" r="3.5"/><circle cx="173.9" cy="322.0" r="3.5"/><circle cx="169.2" cy="342.8" r="3.5"/><circle cx="214.6" cy="331.2" r="3.5"/><circle cx="190.3" cy="314.8" r="3.5"/><circle cx="124.1" cy="341.0" r="3.5"/><circle cx="141.1" cy="347.9" r="3.5"/><circle cx="208.4" cy="301.7" r="3.5"/><circle cx="131.8" cy="336.9" r="3.5"/><circle cx="173.9" cy="342.5" r="3.5"/><circle cx="220.5" cy="305.3" r="3.5"/><circle cx="157.4" cy="341.8" r="3.5"/><circle cx="171.8" cy="311.1" r="3.5"/><circle cx="131.3" cy="341.9" r="3.5"/><circle cx="183.5" cy="331.7" r="3.5"/><circle cx="198.1" cy="308.0" r="3.5"/><circle cx="169.1" cy="337.5" r="3.5"/><circle cx="152.2" cy="338.0" r="3.5"/><circle cx="186.8" cy="323.8" r="3.5"/><circle cx="134.3" cy="330.6" r="3.5"/><circle cx="185.3" cy="318.6" r="3.5"/><circle cx="195.7" cy="335.8" r="3.5"/><circle cx="219.5" cy="329.9" r="3.5"/><circle cx="223.7" cy="308.5" r="3.5"/><circle cx="136.4" cy="351.1" r="3.5"/><circle cx="224.1" cy="305.6" r="3.5"/><circle cx="195.7" cy="322.8" r="3.5"/><circle cx="136.5" cy="350.2" r="3.5"/><circle cx="159.7" cy="341.3" r="3.5"/><circle cx="201.3" cy="324.0" r="3.5"/><circle cx="151.1" cy="333.0" r="3.5"/><circle cx="140.6" cy="341.1" r="3.5"/><circle cx="183.9" cy="316.2" r="3.5"/><circle cx="190.3" cy="331.5" r="3.5"/><circle cx="205.9" cy="309.7" r="3.5"/><circle cx="224.7" cy="311.2" r="3.5"/><circle cx="146.6" cy="332.4" r="3.5"/><circle cx="210.3" cy="329.8" r="3.5"/><circle cx="168.6" cy="309.8" r="3.5"/><circle cx="195.5" cy="319.7" r="3.5"/><circle cx="209.7" cy="304.6" r="3.5"/><circle cx="138.2" cy="342.2" r="3.5"/><circle cx="186.9" cy="322.2" r="3.5"/><circle cx="227.2" cy="317.0" r="3.5"/><circle cx="190.5" cy="317.4" r="3.5"/><circle cx="200.9" cy="330.3" r="3.5"/><circle cx="125.6" cy="353.3" r="3.5"/><circle cx="179.3" cy="340.6" r="3.5"/><circle cx="135.7" cy="341.0" r="3.5"/><circle cx="223.6" cy="301.6" r="3.5"/><circle cx="216.3" cy="308.9" r="3.5"/><circle cx="133.1" cy="346.1" r="3.5"/><circle cx="206.6" cy="326.0" r="3.5"/><circle cx="215.0" cy="327.9" r="3.5"/><circle cx="141.5" cy="351.4" r="3.5"/><circle cx="174.9" cy="337.7" r="3.5"/><circle cx="185.4" cy="334.8" r="3.5"/><circle cx="191.2" cy="310.3" r="3.5"/><circle cx="169.4" cy="316.2" r="3.5"/><circle cx="153.6" cy="335.3" r="3.5"/><circle cx="144.1" cy="325.5" r="3.5"/><circle cx="193.6" cy="317.6" r="3.5"/><circle cx="145.7" cy="343.8" r="3.5"/><circle cx="207.8" cy="326.6" r="3.5"/><circle cx="212.2" cy="305.9" r="3.5"/><circle cx="135.8" cy="342.6" r="3.5"/><circle cx="149.6" cy="339.5" r="3.5"/><circle cx="225.0" cy="315.0" r="3.5"/><circle cx="218.1" cy="331.2" r="3.5"/><circle cx="195.7" cy="336.2" r="3.5"/><circle cx="145.7" cy="322.0" r="3.5"/><circle cx="128.4" cy="337.5" r="3.5"/><circle cx="122.9" cy="359.3" r="3.5"/><circle cx="130.3" cy="354.5" r="3.5"/><circle cx="132.9" cy="346.3" r="3.5"/><circle cx="175.3" cy="340.4" r="3.5"/><circle cx="138.9" cy="326.3" r="3.5"/><circle cx="145.9" cy="348.6" r="3.5"/><circle cx="153.8" cy="335.1" r="3.5"/><circle cx="130.0" cy="349.4" r="3.5"/><circle cx="150.8" cy="342.7" r="3.5"/><circle cx="147.9" cy="323.0" r="3.5"/><circle cx="222.8" cy="306.9" r="3.5"/><circle cx="124.3" cy="349.1" r="3.5"/><circle cx="218.7" cy="298.5" r="3.5"/><circle cx="177.8" cy="308.1" r="3.5"/><circle cx="162.2" cy="338.2" r="3.5"/><circle cx="174.6" cy="323.9" r="3.5"/><circle cx="133.1" cy="343.8" r="3.5"/><circle cx="126.1" cy="355.5" r="3.5"/><circle cx="181.2" cy="311.7" r="3.5"/><circle cx="189.3" cy="310.9" r="3.5"/><circle cx="193.8" cy="306.4" r="3.5"/><circle cx="137.6" cy="349.3" r="3.5"/><circle cx="149.0" cy="343.2" r="3.5"/><circle cx="127.9" cy="349.2" r="3.5"/><circle cx="176.7" cy="312.5" r="3.5"/><circle cx="213.2" cy="309.4" r="3.5"/><circle cx="152.3" cy="323.9" r="3.5"/><circle cx="136.4" cy="346.8" r="3.5"/><circle cx="126.0" cy="348.1" r="3.5"/><circle cx="172.5" cy="344.1" r="3.5"/><circle cx="191.4" cy="325.6" r="3.5"/><circle cx="172.1" cy="337.6" r="3.5"/><circle cx="138.1" cy="354.3" r="3.5"/><circle cx="167.1" cy="324.2" r="3.5"/><circle cx="137.8" cy="345.1" r="3.5"/><circle cx="221.0" cy="305.6" r="3.5"/><circle cx="187.3" cy="307.4" r="3.5"/><circle cx="124.6" cy="339.2" r="3.5"/><circle cx="143.4" cy="337.4" r="3.5"/><circle cx="158.2" cy="321.8" r="3.5"/><circle cx="216.4" cy="324.2" r="3.5"/><circle cx="157.0" cy="338.4" r="3.5"/><circle cx="143.1" cy="336.7" r="3.5"/><circle cx="124.5" cy="346.7" r="3.5"/><circle cx="202.3" cy="334.6" r="3.5"/><circle cx="131.5" cy="338.2" r="3.5"/><circle cx="183.8" cy="320.7" r="3.5"/><circle cx="211.1" cy="312.7" r="3.5"/><circle cx="161.8" cy="334.3" r="3.5"/><circle cx="190.9" cy="318.1" r="3.5"/><circle cx="147.9" cy="328.3" r="3.5"/><circle cx="209.4" cy="305.6" r="3.5"/><circle cx="127.8" cy="340.7" r="3.5"/><circle cx="208.7" cy="303.5" r="3.5"/><circle cx="179.6" cy="335.1" r="3.5"/><circle cx="216.4" cy="323.5" r="3.5"/><circle cx="142.6" cy="322.7" r="3.5"/><circle cx="179.2" cy="312.9" r="3.5"/><circle cx="208.9" cy="304.4" r="3.5"/><circle cx="139.3" cy="347.8" r="3.5"/><circle cx="193.8" cy="327.2" r="3.5"/><circle cx="201.9" cy="330.9" r="3.5"/><circle cx="172.2" cy="343.3" r="3.5"/><circle cx="168.1" cy="314.9" r="3.5"/><circle cx="192.5" cy="309.7" r="3.5"/><circle cx="180.8" cy="329.4" r="3.5"/><circle cx="174.1" cy="309.9" r="3.5"/><circle cx="139.1" cy="340.0" r="3.5"/><circle cx="223.1" cy="325.7" r="3.5"/><circle cx="171.9" cy="345.1" r="3.5"/><circle cx="173.1" cy="322.5" r="3.5"/><circle cx="125.0" cy="357.0" r="3.5"/><circle cx="204.0" cy="311.7" r="3.5"/><circle cx="130.3" cy="344.0" r="3.5"/><circle cx="194.8" cy="323.9" r="3.5"/><circle cx="154.0" cy="325.9" r="3.5"/><circle cx="210.7" cy="309.2" r="3.5"/><circle cx="126.6" cy="352.2" r="3.5"/><circle cx="200.7" cy="305.8" r="3.5"/><circle cx="199.2" cy="321.0" r="3.5"/><circle cx="176.7" cy="309.9" r="3.5"/><circle cx="178.9" cy="308.0" r="3.5"/><circle cx="182.3" cy="321.0" r="3.5"/><circle cx="180.7" cy="321.5" r="3.5"/><circle cx="166.1" cy="320.2" r="3.5"/><circle cx="191.5" cy="335.8" r="3.5"/><circle cx="139.4" cy="328.7" r="3.5"/><circle cx="147.8" cy="332.5" r="3.5"/><circle cx="166.3" cy="317.2" r="3.5"/><circle cx="198.0" cy="324.6" r="3.5"/><circle cx="154.8" cy="339.4" r="3.5"/><circle cx="188.7" cy="331.2" r="3.5"/><circle cx="213.0" cy="311.4" r="3.5"/><circle cx="193.2" cy="328.6" r="3.5"/><circle cx="214.8" cy="326.9" r="3.5"/><circle cx="216.1" cy="331.0" r="3.5"/><circle cx="175.5" cy="316.6" r="3.5"/><circle cx="207.3" cy="312.2" r="3.5"/><circle cx="192.3" cy="308.0" r="3.5"/><circle cx="148.5" cy="343.5" r="3.5"/><circle cx="141.4" cy="354.6" r="3.5"/><circle cx="208.4" cy="305.3" r="3.5"/><circle cx="141.6" cy="323.4" r="3.5"/><circle cx="143.2" cy="330.2" r="3.5"/><circle cx="153.5" cy="339.9" r="3.5"/><circle cx="149.3" cy="325.8" r="3.5"/><circle cx="219.1" cy="302.7" r="3.5"/><circle cx="147.2" cy="343.8" r="3.5"/><circle cx="172.8" cy="314.4" r="3.5"/><circle cx="221.7" cy="310.8" r="3.5"/><circle cx="214.5" cy="300.1" r="3.5"/><circle cx="212.0" cy="315.6" r="3.5"/><circle cx="131.9" cy="330.8" r="3.5"/><circle cx="178.1" cy="340.5" r="3.5"/><circle cx="201.1" cy="330.1" r="3.5"/><circle cx="127.1" cy="348.8" r="3.5"/><circle cx="193.1" cy="331.0" r="3.5"/><circle cx="225.2" cy="324.1" r="3.5"/><circle cx="137.4" cy="327.0" r="3.5"/><circle cx="204.9" cy="312.8" r="3.5"/><circle cx="188.2" cy="319.0" r="3.5"/><circle cx="156.8" cy="325.2" r="3.5"/><circle cx="134.7" cy="348.5" r="3.5"/><circle cx="143.1" cy="342.4" r="3.5"/><circle cx="204.5" cy="312.2" r="3.5"/><circle cx="220.1" cy="303.6" r="3.5"/><circle cx="128.7" cy="355.6" r="3.5"/><circle cx="205.6" cy="308.8" r="3.5"/><circle cx="169.3" cy="326.5" r="3.5"/><circle cx="161.9" cy="331.2" r="3.5"/><circle cx="171.2" cy="309.4" r="3.5"/><circle cx="217.2" cy="318.3" r="3.5"/><circle cx="173.5" cy="330.7" r="3.5"/><circle cx="184.7" cy="338.3" r="3.5"/><circle cx="170.7" cy="337.3" r="3.5"/><circle cx="168.7" cy="320.2" r="3.5"/><circle cx="140.1" cy="326.7" r="3.5"/><circle cx="136.0" cy="330.8" r="3.5"/><circle cx="219.1" cy="300.0" r="3.5"/><circle cx="185.0" cy="335.0" r="3.5"/><circle cx="221.0" cy="333.6" r="3.5"/><circle cx="154.1" cy="335.7" r="3.5"/><circle cx="204.3" cy="325.4" r="3.5"/><circle cx="141.9" cy="339.3" r="3.5"/><circle cx="168.0" cy="325.8" r="3.5"/><circle cx="169.2" cy="318.8" r="3.5"/><circle cx="190.3" cy="310.7" r="3.5"/><circle cx="151.1" cy="340.4" r="3.5"/><circle cx="218.1" cy="318.5" r="3.5"/><circle cx="204.8" cy="325.9" r="3.5"/><circle cx="207.9" cy="321.9" r="3.5"/><circle cx="144.0" cy="332.5" r="3.5"/><circle cx="212.1" cy="322.1" r="3.5"/><circle cx="200.0" cy="321.2" r="3.5"/><circle cx="163.8" cy="340.9" r="3.5"/><circle cx="216.4" cy="331.1" r="3.5"/><circle cx="138.7" cy="332.8" r="3.5"/><circle cx="214.7" cy="313.4" r="3.5"/><circle cx="219.7" cy="332.9" r="3.5"/><circle cx="159.9" cy="325.0" r="3.5"/><circle cx="172.5" cy="313.5" r="3.5"/><circle cx="194.7" cy="336.4" r="3.5"/><circle cx="222.2" cy="311.2" r="3.5"/><circle cx="198.3" cy="306.3" r="3.5"/><circle cx="148.2" cy="326.0" r="3.5"/><circle cx="202.5" cy="321.3" r="3.5"/><circle cx="193.0" cy="328.9" r="3.5"/><circle cx="218.9" cy="326.8" r="3.5"/><circle cx="223.2" cy="330.6" r="3.5"/><circle cx="171.1" cy="323.0" r="3.5"/><circle cx="168.7" cy="340.4" r="3.5"/><circle cx="204.8" cy="329.1" r="3.5"/><circle cx="186.6" cy="314.7" r="3.5"/><circle cx="206.9" cy="306.8" r="3.5"/><circle cx="189.1" cy="308.0" r="3.5"/><circle cx="202.3" cy="337.6" r="3.5"/><circle cx="208.0" cy="332.2" r="3.5"/><circle cx="164.4" cy="315.1" r="3.5"/><circle cx="222.0" cy="300.5" r="3.5"/><circle cx="132.0" cy="340.8" r="3.5"/><circle cx="163.5" cy="313.6" r="3.5"/><circle cx="150.6" cy="326.3" r="3.5"/><circle cx="201.9" cy="322.7" r="3.5"/><circle cx="133.7" cy="338.9" r="3.5"/><circle cx="161.7" cy="338.4" r="3.5"/><circle cx="124.7" cy="352.5" r="3.5"/><circle cx="127.0" cy="337.5" r="3.5"/><circle cx="175.2" cy="312.1" r="3.5"/><circle cx="162.7" cy="325.8" r="3.5"/><circle cx="140.6" cy="356.4" r="3.5"/><circle cx="222.2" cy="329.9" r="3.5"/><circle cx="207.5" cy="307.7" r="3.5"/><circle cx="216.8" cy="308.5" r="3.5"/><circle cx="183.4" cy="310.2" r="3.5"/><circle cx="215.4" cy="306.1" r="3.5"/><circle cx="202.3" cy="322.2" r="3.5"/><circle cx="186.2" cy="308.6" r="3.5"/><circle cx="174.3" cy="340.6" r="3.5"/><circle cx="125.2" cy="337.1" r="3.5"/><circle cx="182.5" cy="331.3" r="3.5"/><circle cx="151.9" cy="323.7" r="3.5"/><circle cx="196.7" cy="326.1" r="3.5"/><circle cx="183.4" cy="312.4" r="3.5"/><circle cx="213.9" cy="334.0" r="3.5"/><circle cx="155.9" cy="322.5" r="3.5"/><circle cx="184.5" cy="304.8" r="3.5"/><circle cx="176.4" cy="313.1" r="3.5"/><circle cx="123.9" cy="343.7" r="3.5"/><circle cx="170.5" cy="327.2" r="3.5"/><circle cx="206.8" cy="302.6" r="3.5"/><circle cx="194.8" cy="329.7" r="3.5"/><circle cx="215.2" cy="318.1" r="3.5"/><circle cx="135.2" cy="333.1" r="3.5"/><circle cx="200.8" cy="337.4" r="3.5"/><circle cx="184.9" cy="305.4" r="3.5"/><circle cx="223.7" cy="326.7" r="3.5"/><circle cx="150.2" cy="333.3" r="3.5"/><circle cx="225.0" cy="310.5" r="3.5"/><circle cx="162.4" cy="337.9" r="3.5"/><circle cx="163.8" cy="333.3" r="3.5"/><circle cx="203.9" cy="306.1" r="3.5"/><circle cx="213.4" cy="300.5" r="3.5"/><circle cx="194.2" cy="315.6" r="3.5"/><circle cx="192.1" cy="308.5" r="3.5"/><circle cx="124.7" cy="341.5" r="3.5"/><circle cx="203.4" cy="317.0" r="3.5"/><circle cx="133.2" cy="354.6" r="3.5"/><circle cx="198.1" cy="314.1" r="3.5"/><circle cx="153.6" cy="338.8" r="3.5"/><circle cx="173.6" cy="331.0" r="3.5"/><circle cx="199.1" cy="323.7" r="3.5"/><circle cx="147.8" cy="336.8" r="3.5"/><circle cx="138.4" cy="338.5" r="3.5"/><circle cx="204.8" cy="307.9" r="3.5"/><circle cx="216.2" cy="307.0" r="3.5"/><circle cx="161.7" cy="320.7" r="3.5"/><circle cx="207.3" cy="330.8" r="3.5"/><circle cx="179.8" cy="319.9" r="3.5"/><circle cx="165.5" cy="339.2" r="3.5"/><circle cx="177.5" cy="334.4" r="3.5"/><circle cx="174.7" cy="311.0" r="3.5"/><circle cx="189.7" cy="305.2" r="3.5"/><circle cx="191.3" cy="312.6" r="3.5"/><circle cx="152.9" cy="336.2" r="3.5"/><circle cx="133.3" cy="333.4" r="3.5"/><circle cx="171.0" cy="342.3" r="3.5"/><circle cx="125.0" cy="358.6" r="3.5"/><circle cx="165.6" cy="318.8" r="3.5"/><circle cx="182.1" cy="306.5" r="3.5"/><circle cx="219.6" cy="312.2" r="3.5"/><circle cx="165.0" cy="327.2" r="3.5"/><circle cx="143.6" cy="324.8" r="3.5"/><circle cx="189.9" cy="320.2" r="3.5"/><circle cx="144.0" cy="328.6" r="3.5"/><circle cx="211.5" cy="328.2" r="3.5"/><circle cx="154.2" cy="330.0" r="3.5"/><circle cx="106.3" cy="343.5" r="3.5"/><circle cx="111.6" cy="334.0" r="3.5"/><circle cx="113.7" cy="337.2" r="3.5"/><circle cx="112.7" cy="342.5" r="3.5"/><circle cx="120.6" cy="338.8" r="3.5"/><circle cx="118.5" cy="347.8" r="3.5"/><circle cx="115.9" cy="353.6" r="3.5"/><circle cx="111.6" cy="358.3" r="3.5"/><circle cx="120.1" cy="361.5" r="3.5"/><circle cx="122.7" cy="361.0" r="3.5"/><circle cx="122.7" cy="354.6" r="3.5"/><circle cx="127.0" cy="321.9" r="3.5"/><circle cx="150.0" cy="315.3" r="3.5"/><circle cx="144.9" cy="367.7" r="3.5"/><circle cx="165.7" cy="368.9" r="3.5"/><circle cx="169.4" cy="348.3" r="3.5"/><circle cx="165.2" cy="311.0" r="3.5"/><circle cx="108.5" cy="383.7" r="3.5"/><circle cx="119.2" cy="379.5" r="3.5"/><circle cx="118.7" cy="382.8" r="3.5"/><circle cx="127.6" cy="385.7" r="3.5"/><circle cx="137.3" cy="383.2" r="3.5"/><circle cx="150.8" cy="394.3" r="3.5"/><circle cx="152.5" cy="410.2" r="3.5"/><circle cx="233.1" cy="276.1" r="3.5"/><circle cx="247.9" cy="282.4" r="3.5"/><circle cx="231.7" cy="289.3" r="3.5"/><circle cx="237.7" cy="288.9" r="3.5"/><circle cx="242.4" cy="289.8" r="3.5"/><circle cx="219.0" cy="298.6" r="3.5"/><circle cx="224.1" cy="301.1" r="3.5"/><circle cx="237.7" cy="302.0" r="3.5"/><circle cx="223.3" cy="301.1" r="3.5"/><circle cx="232.6" cy="301.9" r="3.5"/><circle cx="238.5" cy="301.9" r="3.5"/><circle cx="247.8" cy="302.3" r="3.5"/><circle cx="235.1" cy="320.2" r="3.5"/><circle cx="216.5" cy="348.4" r="3.5"/><circle cx="232.6" cy="345.2" r="3.5"/><circle cx="245.3" cy="346.7" r="3.5"/><circle cx="176.8" cy="365.5" r="3.5"/><circle cx="175.1" cy="374.3" r="3.5"/><circle cx="280.5" cy="252.5" r="3.5"/><circle cx="263.5" cy="275.1" r="3.5"/><circle cx="246.4" cy="346.6" r="3.5"/><circle cx="266.1" cy="319.5" r="3.5"/></g>
<g fill="#08929a" stroke="#000" stroke-width="0.95" stroke-linejoin="miter"><path d="M198.8 336.2L202.3 330.1L195.3 330.1Z"/><path d="M216.0 339.0L219.5 332.9L212.5 332.9Z"/><path d="M223.3 336.0L226.8 329.9L219.8 329.9Z"/><path d="M219.9 332.1L223.4 326.0L216.4 326.0Z"/><path d="M237.7 330.1L241.2 324.0L234.2 324.0Z"/><path d="M244.4 335.8L247.9 329.7L240.9 329.7Z"/><path d="M242.7 343.1L246.2 337.0L239.2 337.0Z"/><path d="M249.8 328.9L253.3 322.8L246.3 322.8Z"/><path d="M195.0 385.1L198.5 379.0L191.5 379.0Z"/><path d="M195.0 391.9L198.5 385.8L191.5 385.8Z"/><path d="M245.0 340.4L248.5 334.3L241.5 334.3Z"/><path d="M270.4 316.8L273.9 310.7L266.9 310.7Z"/><path d="M273.8 315.9L277.3 309.8L270.3 309.8Z"/><path d="M278.0 320.1L281.5 314.0L274.5 314.0Z"/><path d="M272.9 322.7L276.4 316.6L269.4 316.6Z"/><path d="M276.3 324.4L279.8 318.3L272.8 318.3Z"/><path d="M281.4 323.5L284.9 317.4L277.9 317.4Z"/><path d="M283.1 326.1L286.6 320.0L279.6 320.0Z"/><path d="M269.5 327.8L273.0 321.7L266.0 321.7Z"/><path d="M268.7 330.3L272.2 324.2L265.2 324.2Z"/><path d="M272.9 330.3L276.4 324.2L269.4 324.2Z"/><path d="M279.7 328.6L283.2 322.5L276.2 322.5Z"/><path d="M295.7 325.2L299.2 319.1L292.2 319.1Z"/></g>
<g fill="#044c9c" stroke="#000" stroke-width="0.95" stroke-linejoin="miter"><rect x="300.3" y="247.5" width="6" height="6"/><rect x="293.5" y="253.9" width="6" height="6"/><rect x="298.3" y="276.7" width="6" height="6"/><rect x="293.6" y="307.6" width="6" height="6"/><rect x="299.5" y="310.3" width="6" height="6"/><rect x="301.2" y="314.0" width="6" height="6"/><rect x="296.1" y="322.4" width="6" height="6"/><rect x="302.9" y="318.2" width="6" height="6"/><rect x="308.0" y="317.4" width="6" height="6"/><rect x="316.4" y="312.3" width="6" height="6"/><rect x="316.4" y="336.3" width="6" height="6"/><rect x="323.8" y="296.9" width="6" height="6"/><rect x="331.7" y="304.0" width="6" height="6"/><rect x="338.5" y="306.2" width="6" height="6"/><rect x="346.6" y="313.8" width="6" height="6"/><rect x="355.1" y="308.6" width="6" height="6"/><rect x="359.3" y="312.4" width="6" height="6"/><rect x="360.5" y="317.0" width="6" height="6"/><rect x="360.5" y="322.6" width="6" height="6"/><rect x="367.7" y="304.0" width="6" height="6"/><rect x="392.4" y="316.0" width="6" height="6"/><rect x="332.6" y="318.4" width="6" height="6"/><rect x="328.0" y="320.6" width="6" height="6"/><rect x="334.8" y="323.4" width="6" height="6"/><rect x="344.9" y="322.6" width="6" height="6"/><rect x="317.8" y="336.5" width="6" height="6"/><rect x="413.1" y="281.5" width="6" height="6"/><rect x="435.4" y="293.6" width="6" height="6"/><rect x="400.8" y="314.3" width="6" height="6"/></g>
<g fill="#980698" stroke="#000" stroke-width="0.95" stroke-linejoin="miter"><path d="M220.4 252.5L224.5 256.6L220.4 260.7L216.3 256.6Z"/><path d="M193.2 275.0L197.3 279.1L193.2 283.2L189.1 279.1Z"/><path d="M207.2 280.1L211.3 284.2L207.2 288.3L203.1 284.2Z"/><path d="M204.3 285.3L208.4 289.4L204.3 293.5L200.2 289.4Z"/><path d="M206.9 290.4L211.0 294.5L206.9 298.6L202.8 294.5Z"/><path d="M223.8 283.5L227.9 287.6L223.8 291.7L219.7 287.6Z"/><path d="M186.6 298.4L190.7 302.5L186.6 306.6L182.5 302.5Z"/><path d="M178.5 307.2L182.6 311.3L178.5 315.4L174.4 311.3Z"/><path d="M188.2 305.1L192.3 309.2L188.2 313.3L184.1 309.2Z"/><path d="M192.4 308.2L196.5 312.3L192.4 316.4L188.3 312.3Z"/><path d="M197.8 313.2L201.9 317.3L197.8 321.4L193.7 317.3Z"/><path d="M188.9 315.7L193.0 319.8L188.9 323.9L184.8 319.8Z"/><path d="M182.3 317.9L186.4 322.0L182.3 326.1L178.2 322.0Z"/><path d="M175.7 318.9L179.8 323.0L175.7 327.1L171.6 323.0Z"/><path d="M178.3 338.1L182.4 342.2L178.3 346.3L174.2 342.2Z"/><path d="M199.0 342.7L203.1 346.8L199.0 350.9L194.9 346.8Z"/><path d="M139.0 316.1L143.1 320.2L139.0 324.3L134.9 320.2Z"/><path d="M126.8 351.8L130.9 355.9L126.8 360.0L122.7 355.9Z"/><path d="M141.9 350.5L146.0 354.6L141.9 358.7L137.8 354.6Z"/><path d="M166.7 332.9L170.8 337.0L166.7 341.1L162.6 337.0Z"/><path d="M204.3 401.5L208.4 405.6L204.3 409.7L200.2 405.6Z"/><path d="M126.3 378.7L130.4 382.8L126.3 386.9L122.2 382.8Z"/><path d="M133.1 378.2L137.2 382.3L133.1 386.4L129.0 382.3Z"/><path d="M318.6 244.4L322.7 248.5L318.6 252.6L314.5 248.5Z"/><path d="M321.9 242.6L326.0 246.7L321.9 250.8L317.8 246.7Z"/><path d="M334.3 250.7L338.4 254.8L334.3 258.9L330.2 254.8Z"/></g>
<g fill="#8e0808" stroke="#000" stroke-width="0.95" stroke-linejoin="miter"><path d="M174.8 402.2L178.3 408.5L171.3 408.5Z"/><path d="M227.5 378.7L231.0 385.0L224.0 385.0Z"/><path d="M224.6 303.7L228.1 310.0L221.1 310.0Z"/><path d="M257.0 304.6L260.5 310.9L253.5 310.9Z"/><path d="M349.7 231.2L353.2 237.5L346.2 237.5Z"/><path d="M352.9 264.6L356.4 270.9L349.4 270.9Z"/><path d="M325.7 281.2L329.2 287.5L322.2 287.5Z"/><path d="M325.7 285.0L329.2 291.3L322.2 291.3Z"/><path d="M356.5 281.4L360.0 287.7L353.0 287.7Z"/><path d="M349.3 285.0L352.8 291.3L345.8 291.3Z"/><path d="M344.7 289.6L348.2 295.9L341.2 295.9Z"/><path d="M314.8 293.1L318.3 299.4L311.3 299.4Z"/><path d="M355.8 294.2L359.3 300.5L352.3 300.5Z"/><path d="M352.1 299.4L355.6 305.7L348.6 305.7Z"/><path d="M359.0 302.4L362.5 308.7L355.5 308.7Z"/><path d="M316.0 300.0L319.5 306.3L312.5 306.3Z"/><path d="M312.5 305.6L316.0 311.9L309.0 311.9Z"/><path d="M319.6 307.9L323.1 314.2L316.1 314.2Z"/><path d="M326.2 309.1L329.7 315.4L322.7 315.4Z"/><path d="M314.3 293.4L317.8 299.7L310.8 299.7Z"/><path d="M313.5 311.7L317.0 318.0L310.0 318.0Z"/><path d="M310.1 314.2L313.6 320.5L306.6 320.5Z"/><path d="M316.9 317.6L320.4 323.9L313.4 323.9Z"/><path d="M314.7 332.8L318.2 339.1L311.2 339.1Z"/><path d="M321.1 330.9L324.6 337.2L317.6 337.2Z"/><path d="M322.2 341.1L325.7 347.4L318.7 347.4Z"/><path d="M345.0 289.5L348.5 295.8L341.5 295.8Z"/><path d="M367.4 288.1L370.9 294.4L363.9 294.4Z"/><path d="M387.8 284.4L391.3 290.7L384.3 290.7Z"/><path d="M399.3 283.2L402.8 289.5L395.8 289.5Z"/><path d="M375.7 276.6L379.2 282.9L372.2 282.9Z"/><path d="M384.0 276.8L387.5 283.1L380.5 283.1Z"/><path d="M326.8 309.0L330.3 315.3L323.3 315.3Z"/><path d="M358.6 313.5L362.1 319.8L355.1 319.8Z"/><path d="M334.4 320.6L337.9 326.9L330.9 326.9Z"/><path d="M342.0 320.6L345.5 326.9L338.5 326.9Z"/><path d="M375.0 324.5L378.5 330.8L371.5 330.8Z"/><path d="M344.2 329.6L347.7 335.9L340.7 335.9Z"/><path d="M328.1 331.6L331.6 337.9L324.6 337.9Z"/><path d="M338.3 341.4L341.8 347.7L334.8 347.7Z"/><path d="M419.7 293.9L423.2 300.2L416.2 300.2Z"/><path d="M427.4 307.1L430.9 313.4L423.9 313.4Z"/><path d="M409.3 321.6L412.8 327.9L405.8 327.9Z"/><path d="M374.9 304.6L378.4 310.9L371.4 310.9Z"/><path d="M370.1 387.9L373.6 394.2L366.6 394.2Z"/></g>
<path d="M106.0 346.9L113.0 344.3L120.4 341.5L130.0 337.0L137.3 334.5L142.7 332.6L149.0 330.0L155.4 327.6L162.0 325.8L168.0 324.8L175.0 324.4L183.0 324.4L190.0 325.0L199.8 326.2L207.0 327.2L214.6 328.3L222.0 329.1L230.0 329.5L245.0 329.7L251.0 329.3L254.0 328.2L257.0 326.2L260.0 324.2L263.0 323.3L268.0 323.1L290.0 323.1L409.0 323.1" fill="none" stroke="#ff1212" stroke-width="2" stroke-linejoin="round"/>
<g fill="#069006" stroke="#000" stroke-width="0.95" stroke-linejoin="miter"><circle cx="197.4" cy="540.4" r="3.5"/><circle cx="207.8" cy="534.1" r="3.5"/><circle cx="141.8" cy="517.6" r="3.5"/><circle cx="155.8" cy="510.8" r="3.5"/><circle cx="172.9" cy="519.2" r="3.5"/><circle cx="196.9" cy="542.4" r="3.5"/><circle cx="171.4" cy="526.8" r="3.5"/><circle cx="182.9" cy="520.0" r="3.5"/><circle cx="184.0" cy="522.8" r="3.5"/><circle cx="208.7" cy="519.7" r="3.5"/><circle cx="184.6" cy="536.0" r="3.5"/><circle cx="215.9" cy="546.4" r="3.5"/><circle cx="190.1" cy="530.4" r="3.5"/><circle cx="147.4" cy="507.9" r="3.5"/><circle cx="156.3" cy="528.1" r="3.5"/><circle cx="194.1" cy="536.3" r="3.5"/><circle cx="174.1" cy="542.8" r="3.5"/><circle cx="144.5" cy="523.7" r="3.5"/><circle cx="186.5" cy="543.9" r="3.5"/><circle cx="161.6" cy="515.2" r="3.5"/><circle cx="219.3" cy="554.1" r="3.5"/><circle cx="143.4" cy="513.2" r="3.5"/><circle cx="221.2" cy="545.6" r="3.5"/><circle cx="209.8" cy="544.3" r="3.5"/><circle cx="216.5" cy="521.7" r="3.5"/><circle cx="211.4" cy="527.7" r="3.5"/><circle cx="157.1" cy="522.6" r="3.5"/><circle cx="169.2" cy="543.2" r="3.5"/><circle cx="194.2" cy="539.3" r="3.5"/><circle cx="183.7" cy="522.4" r="3.5"/><circle cx="186.9" cy="519.3" r="3.5"/><circle cx="223.8" cy="551.1" r="3.5"/><circle cx="167.7" cy="520.6" r="3.5"/><circle cx="211.3" cy="539.9" r="3.5"/><circle cx="192.4" cy="541.5" r="3.5"/><circle cx="226.4" cy="539.4" r="3.5"/><circle cx="215.6" cy="534.0" r="3.5"/><circle cx="152.7" cy="519.0" r="3.5"/><circle cx="156.4" cy="518.9" r="3.5"/><circle cx="201.0" cy="536.8" r="3.5"/><circle cx="208.5" cy="545.1" r="3.5"/><circle cx="214.5" cy="538.6" r="3.5"/><circle cx="188.3" cy="541.8" r="3.5"/><circle cx="196.2" cy="535.6" r="3.5"/><circle cx="206.9" cy="534.0" r="3.5"/><circle cx="141.8" cy="512.8" r="3.5"/><circle cx="142.6" cy="509.7" r="3.5"/><circle cx="206.7" cy="517.5" r="3.5"/><circle cx="168.5" cy="528.4" r="3.5"/><circle cx="187.4" cy="541.6" r="3.5"/><circle cx="161.8" cy="517.3" r="3.5"/><circle cx="154.8" cy="529.1" r="3.5"/><circle cx="200.3" cy="535.0" r="3.5"/><circle cx="187.0" cy="527.2" r="3.5"/><circle cx="152.2" cy="525.7" r="3.5"/><circle cx="151.9" cy="524.0" r="3.5"/><circle cx="200.4" cy="517.9" r="3.5"/><circle cx="205.5" cy="543.9" r="3.5"/><circle cx="208.7" cy="535.9" r="3.5"/><circle cx="177.3" cy="514.9" r="3.5"/><circle cx="147.6" cy="510.1" r="3.5"/><circle cx="194.4" cy="522.8" r="3.5"/><circle cx="204.1" cy="520.2" r="3.5"/><circle cx="213.0" cy="552.5" r="3.5"/><circle cx="223.0" cy="539.9" r="3.5"/><circle cx="188.5" cy="523.1" r="3.5"/><circle cx="218.1" cy="550.4" r="3.5"/><circle cx="168.6" cy="540.3" r="3.5"/><circle cx="193.7" cy="519.4" r="3.5"/><circle cx="216.3" cy="539.7" r="3.5"/><circle cx="194.0" cy="523.1" r="3.5"/><circle cx="206.7" cy="520.7" r="3.5"/><circle cx="177.2" cy="521.9" r="3.5"/><circle cx="218.9" cy="542.9" r="3.5"/><circle cx="223.0" cy="523.7" r="3.5"/><circle cx="155.0" cy="509.2" r="3.5"/><circle cx="184.6" cy="536.6" r="3.5"/><circle cx="169.1" cy="518.3" r="3.5"/><circle cx="177.2" cy="521.8" r="3.5"/><circle cx="143.7" cy="515.7" r="3.5"/><circle cx="175.7" cy="511.8" r="3.5"/><circle cx="184.7" cy="527.6" r="3.5"/><circle cx="156.8" cy="522.7" r="3.5"/><circle cx="151.0" cy="524.5" r="3.5"/><circle cx="200.0" cy="521.9" r="3.5"/><circle cx="217.6" cy="549.9" r="3.5"/><circle cx="181.0" cy="528.4" r="3.5"/><circle cx="208.6" cy="520.6" r="3.5"/><circle cx="150.5" cy="506.7" r="3.5"/><circle cx="164.7" cy="539.2" r="3.5"/><circle cx="169.1" cy="529.7" r="3.5"/><circle cx="168.3" cy="527.7" r="3.5"/><circle cx="180.1" cy="541.1" r="3.5"/><circle cx="180.8" cy="522.9" r="3.5"/><circle cx="217.5" cy="542.1" r="3.5"/><circle cx="214.0" cy="545.6" r="3.5"/><circle cx="196.0" cy="545.0" r="3.5"/><circle cx="140.7" cy="509.6" r="3.5"/><circle cx="196.2" cy="525.5" r="3.5"/><circle cx="182.2" cy="531.3" r="3.5"/><circle cx="208.0" cy="546.1" r="3.5"/><circle cx="143.3" cy="517.0" r="3.5"/><circle cx="205.3" cy="541.4" r="3.5"/><circle cx="159.8" cy="529.4" r="3.5"/><circle cx="213.7" cy="547.3" r="3.5"/><circle cx="193.4" cy="521.4" r="3.5"/><circle cx="225.9" cy="532.8" r="3.5"/><circle cx="215.6" cy="524.0" r="3.5"/><circle cx="188.9" cy="531.4" r="3.5"/><circle cx="190.8" cy="523.3" r="3.5"/><circle cx="215.2" cy="524.2" r="3.5"/><circle cx="177.5" cy="512.7" r="3.5"/><circle cx="143.1" cy="506.4" r="3.5"/><circle cx="151.8" cy="510.9" r="3.5"/><circle cx="171.8" cy="536.2" r="3.5"/><circle cx="167.4" cy="525.0" r="3.5"/><circle cx="186.9" cy="545.8" r="3.5"/><circle cx="219.0" cy="553.9" r="3.5"/><circle cx="163.8" cy="523.2" r="3.5"/><circle cx="196.4" cy="527.8" r="3.5"/><circle cx="188.8" cy="528.2" r="3.5"/><circle cx="141.5" cy="524.0" r="3.5"/><circle cx="187.2" cy="519.1" r="3.5"/><circle cx="183.1" cy="537.9" r="3.5"/><circle cx="152.2" cy="522.3" r="3.5"/><circle cx="164.7" cy="531.6" r="3.5"/><circle cx="162.3" cy="531.9" r="3.5"/><circle cx="186.3" cy="544.7" r="3.5"/><circle cx="210.2" cy="547.6" r="3.5"/><circle cx="185.9" cy="525.1" r="3.5"/><circle cx="188.6" cy="531.9" r="3.5"/><circle cx="161.5" cy="535.6" r="3.5"/><circle cx="182.6" cy="535.4" r="3.5"/><circle cx="218.7" cy="544.9" r="3.5"/><circle cx="163.2" cy="534.0" r="3.5"/><circle cx="189.5" cy="538.0" r="3.5"/><circle cx="194.1" cy="522.3" r="3.5"/><circle cx="206.4" cy="547.4" r="3.5"/><circle cx="225.4" cy="544.4" r="3.5"/><circle cx="152.0" cy="522.6" r="3.5"/><circle cx="182.5" cy="530.2" r="3.5"/><circle cx="203.5" cy="545.8" r="3.5"/><circle cx="154.4" cy="514.4" r="3.5"/><circle cx="224.5" cy="535.1" r="3.5"/><circle cx="196.2" cy="517.7" r="3.5"/><circle cx="212.4" cy="523.8" r="3.5"/><circle cx="185.2" cy="520.3" r="3.5"/><circle cx="160.2" cy="517.8" r="3.5"/><circle cx="205.0" cy="527.8" r="3.5"/><circle cx="220.3" cy="548.3" r="3.5"/><circle cx="170.2" cy="515.8" r="3.5"/><circle cx="218.8" cy="540.5" r="3.5"/><circle cx="200.0" cy="537.6" r="3.5"/><circle cx="169.5" cy="524.7" r="3.5"/><circle cx="184.9" cy="543.0" r="3.5"/><circle cx="186.2" cy="536.4" r="3.5"/><circle cx="191.5" cy="526.0" r="3.5"/><circle cx="207.5" cy="548.0" r="3.5"/><circle cx="168.9" cy="540.8" r="3.5"/><circle cx="172.0" cy="522.0" r="3.5"/><circle cx="220.2" cy="532.6" r="3.5"/><circle cx="189.2" cy="541.9" r="3.5"/><circle cx="217.7" cy="554.0" r="3.5"/><circle cx="225.7" cy="530.4" r="3.5"/><circle cx="199.8" cy="529.8" r="3.5"/><circle cx="166.1" cy="524.7" r="3.5"/><circle cx="222.2" cy="544.7" r="3.5"/><circle cx="169.3" cy="523.7" r="3.5"/><circle cx="218.0" cy="526.6" r="3.5"/><circle cx="163.7" cy="524.3" r="3.5"/><circle cx="189.5" cy="535.5" r="3.5"/><circle cx="196.3" cy="537.1" r="3.5"/><circle cx="183.2" cy="515.2" r="3.5"/><circle cx="155.8" cy="526.3" r="3.5"/><circle cx="193.7" cy="532.6" r="3.5"/><circle cx="142.6" cy="513.4" r="3.5"/><circle cx="182.5" cy="539.1" r="3.5"/><circle cx="172.9" cy="534.2" r="3.5"/><circle cx="189.7" cy="516.8" r="3.5"/><circle cx="203.9" cy="524.0" r="3.5"/><circle cx="178.7" cy="515.3" r="3.5"/><circle cx="154.1" cy="525.1" r="3.5"/><circle cx="217.5" cy="550.0" r="3.5"/><circle cx="226.1" cy="538.7" r="3.5"/><circle cx="219.9" cy="548.1" r="3.5"/><circle cx="162.8" cy="514.2" r="3.5"/><circle cx="197.9" cy="518.1" r="3.5"/><circle cx="222.5" cy="536.6" r="3.5"/><circle cx="198.0" cy="517.1" r="3.5"/><circle cx="142.4" cy="520.9" r="3.5"/><circle cx="223.7" cy="542.4" r="3.5"/><circle cx="172.0" cy="520.2" r="3.5"/><circle cx="213.5" cy="527.7" r="3.5"/><circle cx="223.1" cy="551.6" r="3.5"/><circle cx="160.3" cy="531.5" r="3.5"/><circle cx="142.5" cy="515.7" r="3.5"/><circle cx="220.5" cy="541.8" r="3.5"/><circle cx="192.7" cy="540.4" r="3.5"/><circle cx="192.7" cy="517.0" r="3.5"/><circle cx="184.1" cy="536.4" r="3.5"/><circle cx="171.0" cy="517.8" r="3.5"/><circle cx="200.7" cy="524.2" r="3.5"/><circle cx="171.8" cy="517.4" r="3.5"/><circle cx="153.4" cy="516.1" r="3.5"/><circle cx="208.2" cy="524.3" r="3.5"/><circle cx="145.1" cy="506.1" r="3.5"/><circle cx="187.4" cy="525.0" r="3.5"/><circle cx="209.9" cy="528.1" r="3.5"/><circle cx="215.3" cy="549.2" r="3.5"/><circle cx="144.3" cy="521.7" r="3.5"/><circle cx="163.6" cy="514.3" r="3.5"/><circle cx="189.2" cy="536.4" r="3.5"/><circle cx="190.3" cy="522.2" r="3.5"/><circle cx="150.1" cy="520.9" r="3.5"/><circle cx="193.8" cy="537.4" r="3.5"/><circle cx="215.0" cy="529.1" r="3.5"/><circle cx="211.2" cy="543.0" r="3.5"/><circle cx="175.5" cy="539.6" r="3.5"/><circle cx="173.2" cy="510.0" r="3.5"/><circle cx="205.2" cy="548.5" r="3.5"/><circle cx="206.8" cy="542.1" r="3.5"/><circle cx="188.6" cy="537.0" r="3.5"/><circle cx="213.2" cy="520.8" r="3.5"/><circle cx="185.5" cy="527.2" r="3.5"/><circle cx="189.4" cy="534.3" r="3.5"/><circle cx="183.1" cy="517.6" r="3.5"/><circle cx="149.6" cy="521.8" r="3.5"/><circle cx="175.0" cy="515.4" r="3.5"/><circle cx="152.4" cy="516.8" r="3.5"/><circle cx="179.1" cy="521.6" r="3.5"/><circle cx="180.6" cy="524.4" r="3.5"/><circle cx="205.2" cy="522.4" r="3.5"/><circle cx="177.4" cy="539.6" r="3.5"/><circle cx="193.8" cy="542.7" r="3.5"/><circle cx="221.6" cy="536.5" r="3.5"/><circle cx="186.1" cy="534.0" r="3.5"/><circle cx="171.7" cy="519.7" r="3.5"/><circle cx="148.0" cy="528.8" r="3.5"/><circle cx="157.8" cy="511.4" r="3.5"/><circle cx="201.2" cy="542.3" r="3.5"/><circle cx="159.3" cy="526.5" r="3.5"/><circle cx="217.7" cy="531.4" r="3.5"/><circle cx="170.1" cy="520.6" r="3.5"/><circle cx="162.8" cy="521.5" r="3.5"/><circle cx="195.2" cy="545.6" r="3.5"/><circle cx="207.1" cy="523.1" r="3.5"/><circle cx="203.2" cy="518.5" r="3.5"/><circle cx="174.8" cy="519.3" r="3.5"/><circle cx="157.5" cy="530.8" r="3.5"/><circle cx="165.8" cy="520.6" r="3.5"/><circle cx="220.2" cy="537.6" r="3.5"/><circle cx="217.6" cy="523.0" r="3.5"/><circle cx="168.7" cy="524.0" r="3.5"/><circle cx="198.8" cy="528.1" r="3.5"/><circle cx="183.1" cy="536.2" r="3.5"/><circle cx="194.0" cy="519.6" r="3.5"/><circle cx="178.1" cy="525.7" r="3.5"/><circle cx="151.8" cy="523.7" r="3.5"/><circle cx="154.1" cy="513.5" r="3.5"/><circle cx="155.5" cy="511.2" r="3.5"/><circle cx="215.3" cy="551.1" r="3.5"/><circle cx="209.8" cy="531.1" r="3.5"/><circle cx="201.2" cy="546.6" r="3.5"/><circle cx="144.3" cy="526.9" r="3.5"/><circle cx="183.2" cy="524.5" r="3.5"/><circle cx="151.2" cy="526.5" r="3.5"/><circle cx="180.1" cy="527.4" r="3.5"/><circle cx="164.3" cy="539.6" r="3.5"/><circle cx="214.3" cy="533.6" r="3.5"/><circle cx="207.3" cy="550.5" r="3.5"/><circle cx="191.9" cy="543.6" r="3.5"/><circle cx="211.6" cy="548.5" r="3.5"/><circle cx="160.8" cy="515.1" r="3.5"/><circle cx="223.9" cy="538.2" r="3.5"/><circle cx="206.2" cy="536.3" r="3.5"/><circle cx="181.7" cy="532.6" r="3.5"/><circle cx="202.9" cy="517.3" r="3.5"/><circle cx="181.5" cy="524.0" r="3.5"/><circle cx="143.0" cy="523.0" r="3.5"/><circle cx="161.0" cy="534.9" r="3.5"/><circle cx="211.7" cy="526.4" r="3.5"/><circle cx="150.4" cy="521.2" r="3.5"/><circle cx="207.6" cy="540.4" r="3.5"/><circle cx="200.7" cy="545.5" r="3.5"/><circle cx="153.5" cy="518.0" r="3.5"/><circle cx="168.7" cy="520.3" r="3.5"/><circle cx="223.5" cy="546.1" r="3.5"/><circle cx="146.8" cy="515.4" r="3.5"/><circle cx="146.9" cy="516.2" r="3.5"/><circle cx="208.0" cy="532.8" r="3.5"/><circle cx="204.5" cy="532.8" r="3.5"/><circle cx="150.8" cy="521.7" r="3.5"/><circle cx="154.9" cy="526.2" r="3.5"/><circle cx="148.5" cy="527.0" r="3.5"/><circle cx="143.2" cy="526.1" r="3.5"/><circle cx="179.8" cy="533.8" r="3.5"/><circle cx="182.7" cy="518.4" r="3.5"/><circle cx="158.0" cy="529.8" r="3.5"/><circle cx="179.6" cy="514.8" r="3.5"/><circle cx="190.7" cy="527.7" r="3.5"/><circle cx="214.2" cy="551.3" r="3.5"/><circle cx="169.4" cy="521.4" r="3.5"/><circle cx="170.1" cy="519.6" r="3.5"/><circle cx="172.1" cy="511.0" r="3.5"/><circle cx="217.1" cy="523.0" r="3.5"/><circle cx="164.7" cy="536.7" r="3.5"/><circle cx="150.1" cy="520.5" r="3.5"/><circle cx="165.3" cy="521.6" r="3.5"/><circle cx="165.7" cy="514.2" r="3.5"/><circle cx="208.1" cy="548.6" r="3.5"/><circle cx="171.5" cy="521.8" r="3.5"/><circle cx="148.6" cy="510.0" r="3.5"/><circle cx="168.2" cy="537.2" r="3.5"/><circle cx="194.4" cy="537.2" r="3.5"/><circle cx="165.4" cy="530.7" r="3.5"/><circle cx="220.0" cy="548.0" r="3.5"/><circle cx="183.3" cy="531.2" r="3.5"/><circle cx="160.8" cy="518.8" r="3.5"/><circle cx="172.8" cy="528.9" r="3.5"/><circle cx="225.1" cy="542.5" r="3.5"/><circle cx="157.3" cy="514.8" r="3.5"/><circle cx="224.6" cy="548.2" r="3.5"/><circle cx="149.2" cy="509.3" r="3.5"/><circle cx="181.0" cy="536.3" r="3.5"/><circle cx="190.9" cy="545.2" r="3.5"/><circle cx="146.2" cy="527.8" r="3.5"/><circle cx="219.3" cy="521.7" r="3.5"/><circle cx="174.6" cy="537.6" r="3.5"/><circle cx="163.5" cy="515.7" r="3.5"/><circle cx="160.9" cy="534.6" r="3.5"/><circle cx="173.0" cy="521.5" r="3.5"/><circle cx="188.5" cy="545.1" r="3.5"/><circle cx="206.8" cy="524.0" r="3.5"/><circle cx="166.6" cy="531.9" r="3.5"/><circle cx="194.2" cy="542.6" r="3.5"/><circle cx="212.4" cy="539.6" r="3.5"/><circle cx="207.4" cy="544.2" r="3.5"/><circle cx="159.3" cy="513.4" r="3.5"/><circle cx="201.3" cy="541.4" r="3.5"/><circle cx="145.4" cy="525.2" r="3.5"/><circle cx="208.7" cy="539.9" r="3.5"/><circle cx="158.7" cy="530.3" r="3.5"/><circle cx="194.9" cy="529.7" r="3.5"/><circle cx="144.7" cy="518.9" r="3.5"/><circle cx="161.9" cy="523.3" r="3.5"/><circle cx="149.6" cy="508.8" r="3.5"/><circle cx="175.2" cy="510.9" r="3.5"/><circle cx="207.2" cy="540.8" r="3.5"/><circle cx="202.7" cy="547.5" r="3.5"/><circle cx="222.2" cy="535.4" r="3.5"/><circle cx="142.7" cy="505.6" r="3.5"/><circle cx="178.9" cy="541.6" r="3.5"/><circle cx="209.3" cy="523.3" r="3.5"/><circle cx="214.7" cy="531.3" r="3.5"/><circle cx="152.2" cy="518.5" r="3.5"/><circle cx="142.7" cy="514.3" r="3.5"/><circle cx="217.5" cy="533.0" r="3.5"/><circle cx="149.4" cy="530.8" r="3.5"/><circle cx="158.5" cy="516.4" r="3.5"/><circle cx="218.4" cy="536.1" r="3.5"/><circle cx="190.8" cy="520.7" r="3.5"/><circle cx="204.8" cy="527.7" r="3.5"/><circle cx="158.1" cy="515.7" r="3.5"/><circle cx="190.9" cy="527.7" r="3.5"/><circle cx="210.6" cy="532.8" r="3.5"/><circle cx="210.6" cy="527.5" r="3.5"/><circle cx="180.1" cy="543.5" r="3.5"/><circle cx="184.3" cy="537.1" r="3.5"/><circle cx="174.1" cy="515.5" r="3.5"/><circle cx="178.2" cy="525.0" r="3.5"/><circle cx="174.5" cy="527.2" r="3.5"/><circle cx="205.8" cy="518.6" r="3.5"/><circle cx="145.3" cy="505.5" r="3.5"/><circle cx="175.4" cy="513.5" r="3.5"/><circle cx="194.9" cy="527.3" r="3.5"/><circle cx="181.3" cy="545.0" r="3.5"/><circle cx="215.0" cy="532.9" r="3.5"/><circle cx="172.1" cy="516.4" r="3.5"/><circle cx="194.9" cy="529.9" r="3.5"/><circle cx="150.8" cy="510.3" r="3.5"/><circle cx="208.7" cy="530.7" r="3.5"/><circle cx="146.9" cy="505.4" r="3.5"/><circle cx="157.3" cy="523.7" r="3.5"/><circle cx="148.8" cy="509.9" r="3.5"/><circle cx="164.4" cy="515.9" r="3.5"/><circle cx="170.9" cy="523.9" r="3.5"/><circle cx="212.3" cy="537.7" r="3.5"/><circle cx="151.2" cy="514.2" r="3.5"/><circle cx="197.9" cy="545.2" r="3.5"/><circle cx="209.1" cy="532.1" r="3.5"/><circle cx="166.0" cy="537.3" r="3.5"/><circle cx="222.4" cy="544.3" r="3.5"/><circle cx="190.7" cy="523.1" r="3.5"/><circle cx="166.7" cy="520.2" r="3.5"/><circle cx="219.3" cy="543.9" r="3.5"/><circle cx="206.9" cy="527.0" r="3.5"/><circle cx="159.0" cy="518.3" r="3.5"/><circle cx="183.7" cy="518.2" r="3.5"/><circle cx="180.8" cy="544.9" r="3.5"/><circle cx="187.1" cy="542.5" r="3.5"/><circle cx="204.8" cy="534.1" r="3.5"/><circle cx="149.1" cy="517.4" r="3.5"/><circle cx="193.9" cy="540.7" r="3.5"/><circle cx="203.4" cy="523.5" r="3.5"/><circle cx="186.7" cy="527.1" r="3.5"/><circle cx="215.0" cy="540.9" r="3.5"/><circle cx="190.3" cy="531.1" r="3.5"/><circle cx="142.7" cy="516.0" r="3.5"/><circle cx="200.5" cy="526.7" r="3.5"/><circle cx="211.2" cy="537.3" r="3.5"/><circle cx="210.4" cy="527.8" r="3.5"/><circle cx="140.1" cy="508.5" r="3.5"/><circle cx="215.8" cy="552.5" r="3.5"/><circle cx="178.4" cy="544.1" r="3.5"/><circle cx="174.0" cy="533.7" r="3.5"/><circle cx="199.7" cy="546.1" r="3.5"/><circle cx="171.6" cy="518.2" r="3.5"/><circle cx="145.7" cy="515.5" r="3.5"/><circle cx="182.8" cy="524.9" r="3.5"/><circle cx="168.5" cy="542.5" r="3.5"/><circle cx="204.0" cy="547.9" r="3.5"/><circle cx="145.7" cy="524.0" r="3.5"/><circle cx="196.2" cy="517.0" r="3.5"/><circle cx="173.6" cy="525.7" r="3.5"/><circle cx="161.4" cy="527.1" r="3.5"/><circle cx="179.6" cy="536.7" r="3.5"/><circle cx="178.9" cy="512.3" r="3.5"/><circle cx="177.3" cy="526.5" r="3.5"/><circle cx="146.5" cy="521.9" r="3.5"/><circle cx="184.9" cy="516.2" r="3.5"/><circle cx="219.3" cy="549.0" r="3.5"/><circle cx="222.5" cy="523.7" r="3.5"/><circle cx="217.2" cy="524.1" r="3.5"/><circle cx="174.7" cy="513.7" r="3.5"/><circle cx="211.5" cy="544.5" r="3.5"/><circle cx="178.3" cy="537.8" r="3.5"/><circle cx="164.8" cy="526.2" r="3.5"/><circle cx="215.5" cy="543.7" r="3.5"/><circle cx="173.0" cy="528.8" r="3.5"/><circle cx="139.7" cy="513.6" r="3.5"/><circle cx="139.7" cy="520.7" r="3.5"/><circle cx="206.7" cy="533.5" r="3.5"/><circle cx="171.6" cy="511.1" r="3.5"/><circle cx="165.4" cy="521.3" r="3.5"/><circle cx="175.5" cy="525.5" r="3.5"/><circle cx="209.5" cy="531.7" r="3.5"/><circle cx="156.8" cy="526.4" r="3.5"/><circle cx="175.9" cy="520.9" r="3.5"/><circle cx="172.6" cy="533.0" r="3.5"/><circle cx="202.8" cy="535.1" r="3.5"/><circle cx="215.4" cy="522.1" r="3.5"/><circle cx="169.4" cy="536.1" r="3.5"/><circle cx="179.8" cy="526.1" r="3.5"/><circle cx="172.5" cy="535.7" r="3.5"/><circle cx="215.4" cy="526.2" r="3.5"/><circle cx="191.9" cy="541.1" r="3.5"/><circle cx="218.9" cy="532.2" r="3.5"/><circle cx="169.6" cy="522.2" r="3.5"/><circle cx="175.8" cy="537.2" r="3.5"/><circle cx="206.9" cy="537.0" r="3.5"/><circle cx="179.6" cy="524.2" r="3.5"/><circle cx="209.9" cy="525.1" r="3.5"/><circle cx="164.9" cy="540.7" r="3.5"/><circle cx="152.2" cy="530.6" r="3.5"/><circle cx="219.1" cy="527.4" r="3.5"/><circle cx="171.9" cy="515.5" r="3.5"/><circle cx="176.9" cy="524.6" r="3.5"/><circle cx="208.8" cy="518.9" r="3.5"/><circle cx="150.4" cy="512.7" r="3.5"/><circle cx="139.7" cy="516.7" r="3.5"/><circle cx="160.4" cy="521.4" r="3.5"/><circle cx="161.4" cy="534.8" r="3.5"/><circle cx="152.6" cy="446.1" r="3.5"/><circle cx="189.6" cy="449.6" r="3.5"/><circle cx="150.8" cy="460.5" r="3.5"/><circle cx="119.1" cy="463.8" r="3.5"/><circle cx="133.1" cy="471.6" r="3.5"/><circle cx="137.6" cy="472.3" r="3.5"/><circle cx="140.5" cy="473.6" r="3.5"/><circle cx="144.9" cy="477.3" r="3.5"/><circle cx="174.9" cy="480.3" r="3.5"/><circle cx="165.6" cy="482.8" r="3.5"/><circle cx="176.9" cy="488.9" r="3.5"/><circle cx="173.8" cy="481.3" r="3.5"/><circle cx="112.9" cy="475.2" r="3.5"/><circle cx="107.9" cy="481.7" r="3.5"/><circle cx="111.8" cy="481.2" r="3.5"/><circle cx="115.9" cy="483.9" r="3.5"/><circle cx="118.5" cy="482.3" r="3.5"/><circle cx="114.8" cy="487.6" r="3.5"/><circle cx="117.4" cy="488.1" r="3.5"/><circle cx="119.0" cy="486.5" r="3.5"/><circle cx="121.7" cy="484.9" r="3.5"/><circle cx="123.3" cy="487.6" r="3.5"/><circle cx="132.2" cy="492.8" r="3.5"/><circle cx="122.7" cy="494.4" r="3.5"/><circle cx="116.9" cy="496.5" r="3.5"/><circle cx="111.8" cy="496.5" r="3.5"/><circle cx="106.3" cy="499.2" r="3.5"/><circle cx="112.2" cy="503.4" r="3.5"/><circle cx="113.7" cy="509.4" r="3.5"/><circle cx="120.6" cy="512.2" r="3.5"/><circle cx="125.4" cy="500.8" r="3.5"/><circle cx="128.0" cy="499.7" r="3.5"/><circle cx="130.1" cy="502.9" r="3.5"/><circle cx="124.3" cy="505.0" r="3.5"/><circle cx="135.4" cy="500.2" r="3.5"/><circle cx="128.5" cy="507.6" r="3.5"/><circle cx="131.7" cy="509.8" r="3.5"/><circle cx="127.0" cy="513.5" r="3.5"/><circle cx="136.5" cy="511.9" r="3.5"/><circle cx="130.7" cy="518.7" r="3.5"/><circle cx="133.8" cy="517.2" r="3.5"/><circle cx="134.9" cy="522.4" r="3.5"/><circle cx="144.9" cy="493.4" r="3.5"/><circle cx="129.2" cy="519.3" r="3.5"/><circle cx="135.0" cy="523.0" r="3.5"/><circle cx="126.8" cy="531.3" r="3.5"/><circle cx="150.0" cy="538.9" r="3.5"/><circle cx="216.7" cy="506.9" r="3.5"/><circle cx="232.7" cy="509.5" r="3.5"/><circle cx="176.9" cy="490.0" r="3.5"/><circle cx="235.3" cy="534.8" r="3.5"/><circle cx="231.9" cy="552.6" r="3.5"/><circle cx="237.8" cy="550.9" r="3.5"/><circle cx="231.0" cy="563.6" r="3.5"/><circle cx="237.0" cy="560.2" r="3.5"/><circle cx="232.6" cy="509.0" r="3.5"/><circle cx="245.8" cy="508.5" r="3.5"/><circle cx="235.1" cy="535.1" r="3.5"/><circle cx="248.4" cy="551.0" r="3.5"/><circle cx="242.3" cy="560.1" r="3.5"/><circle cx="248.3" cy="568.1" r="3.5"/><circle cx="233.5" cy="574.0" r="3.5"/><circle cx="263.9" cy="570.2" r="3.5"/><circle cx="280.7" cy="591.6" r="3.5"/><circle cx="265.1" cy="535.1" r="3.5"/></g>
<g fill="#08929a" stroke="#000" stroke-width="0.95" stroke-linejoin="miter"><path d="M195.1 473.0L198.6 466.9L191.6 466.9Z"/><path d="M195.3 475.6L198.8 469.5L191.8 469.5Z"/><path d="M199.3 527.2L202.8 521.1L195.8 521.1Z"/><path d="M215.8 525.3L219.3 519.2L212.3 519.2Z"/><path d="M219.5 529.5L223.0 523.4L216.0 523.4Z"/><path d="M223.9 530.4L227.4 524.3L220.4 524.3Z"/><path d="M237.0 533.7L240.5 527.6L233.5 527.6Z"/><path d="M242.3 523.1L245.8 517.0L238.8 517.0Z"/><path d="M237.2 533.3L240.7 527.2L233.7 527.2Z"/><path d="M244.8 531.0L248.3 524.9L241.3 524.9Z"/><path d="M251.1 532.8L254.6 526.7L247.6 526.7Z"/><path d="M267.7 535.4L271.2 529.3L264.2 529.3Z"/><path d="M271.9 534.2L275.4 528.1L268.4 528.1Z"/><path d="M276.1 535.4L279.6 529.3L272.6 529.3Z"/><path d="M280.4 535.4L283.9 529.3L276.9 529.3Z"/><path d="M282.9 538.2L286.4 532.1L279.4 532.1Z"/><path d="M269.4 539.6L272.9 533.5L265.9 533.5Z"/><path d="M273.6 540.4L277.1 534.3L270.1 534.3Z"/><path d="M277.8 541.3L281.3 535.2L274.3 535.2Z"/><path d="M268.5 543.8L272.0 537.7L265.0 537.7Z"/><path d="M272.8 545.5L276.3 539.4L269.3 539.4Z"/><path d="M277.0 544.7L280.5 538.6L273.5 538.6Z"/><path d="M281.2 541.3L284.7 535.2L277.7 535.2Z"/><path d="M295.3 539.1L298.8 533.0L291.8 533.0Z"/></g>
<g fill="#044c9c" stroke="#000" stroke-width="0.95" stroke-linejoin="miter"><rect x="316.6" y="509.8" width="6" height="6"/><rect x="296.3" y="525.5" width="6" height="6"/><rect x="309.8" y="528.4" width="6" height="6"/><rect x="327.8" y="526.7" width="6" height="6"/><rect x="301.0" y="533.4" width="6" height="6"/><rect x="304.4" y="532.6" width="6" height="6"/><rect x="292.6" y="537.3" width="6" height="6"/><rect x="299.4" y="537.7" width="6" height="6"/><rect x="293.4" y="541.0" width="6" height="6"/><rect x="315.4" y="535.1" width="6" height="6"/><rect x="330.9" y="543.2" width="6" height="6"/><rect x="300.2" y="554.0" width="6" height="6"/><rect x="323.9" y="551.3" width="6" height="6"/><rect x="298.1" y="567.0" width="6" height="6"/><rect x="293.3" y="573.2" width="6" height="6"/><rect x="294.0" y="542.0" width="6" height="6"/><rect x="335.2" y="523.3" width="6" height="6"/><rect x="332.5" y="528.4" width="6" height="6"/><rect x="344.3" y="524.5" width="6" height="6"/><rect x="360.4" y="525.0" width="6" height="6"/><rect x="360.4" y="530.6" width="6" height="6"/><rect x="346.9" y="533.4" width="6" height="6"/><rect x="358.4" y="536.3" width="6" height="6"/><rect x="355.0" y="539.9" width="6" height="6"/><rect x="338.4" y="542.2" width="6" height="6"/><rect x="368.0" y="545.3" width="6" height="6"/><rect x="324.0" y="551.5" width="6" height="6"/><rect x="392.3" y="531.2" width="6" height="6"/><rect x="400.1" y="534.2" width="6" height="6"/><rect x="435.0" y="556.8" width="6" height="6"/><rect x="412.5" y="567.6" width="6" height="6"/><rect x="331.5" y="543.7" width="6" height="6"/></g>
<g fill="#980698" stroke="#000" stroke-width="0.95" stroke-linejoin="miter"><path d="M126.7 455.9L130.8 460.0L126.7 464.1L122.6 460.0Z"/><path d="M130.5 455.9L134.6 460.0L130.5 464.1L126.4 460.0Z"/><path d="M133.1 460.7L137.2 464.8L133.1 468.9L129.0 464.8Z"/><path d="M204.1 452.6L208.2 456.7L204.1 460.8L200.0 456.7Z"/><path d="M127.2 484.2L131.3 488.3L127.2 492.4L123.1 488.3Z"/><path d="M141.5 492.1L145.6 496.2L141.5 500.3L137.4 496.2Z"/><path d="M167.1 511.2L171.2 515.3L167.1 519.4L163.0 515.3Z"/><path d="M178.6 507.9L182.7 512.0L178.6 516.1L174.5 512.0Z"/><path d="M198.9 508.8L203.0 512.9L198.9 517.0L194.8 512.9Z"/><path d="M138.6 528.6L142.7 532.7L138.6 536.8L134.5 532.7Z"/><path d="M175.6 527.3L179.7 531.4L175.6 535.5L171.5 531.4Z"/><path d="M182.7 528.1L186.8 532.2L182.7 536.3L178.6 532.2Z"/><path d="M192.1 534.9L196.2 539.0L192.1 543.1L188.0 539.0Z"/><path d="M198.1 532.8L202.2 536.9L198.1 541.0L194.0 536.9Z"/><path d="M178.6 539.3L182.7 543.4L178.6 547.5L174.5 543.4Z"/><path d="M188.4 540.9L192.5 545.0L188.4 549.1L184.3 545.0Z"/><path d="M186.8 548.5L190.9 552.6L186.8 556.7L182.7 552.6Z"/><path d="M206.4 555.4L210.5 559.5L206.4 563.6L202.3 559.5Z"/><path d="M204.3 560.4L208.4 564.5L204.3 568.6L200.2 564.5Z"/><path d="M207.0 564.7L211.1 568.8L207.0 572.9L202.9 568.8Z"/><path d="M223.9 560.9L228.0 565.0L223.9 569.1L219.8 565.0Z"/><path d="M193.5 573.8L197.6 577.9L193.5 582.0L189.4 577.9Z"/><path d="M220.1 588.6L224.2 592.7L220.1 596.8L216.0 592.7Z"/><path d="M318.4 599.2L322.5 603.3L318.4 607.4L314.3 603.3Z"/><path d="M322.0 604.3L326.1 608.4L322.0 612.5L317.9 608.4Z"/><path d="M334.2 598.5L338.3 602.6L334.2 606.7L330.1 602.6Z"/></g>
<g fill="#8e0808" stroke="#000" stroke-width="0.95" stroke-linejoin="miter"><path d="M174.9 456.9L178.4 463.2L171.4 463.2Z"/><path d="M174.4 460.7L177.9 467.0L170.9 467.0Z"/><path d="M162.5 536.2L166.0 542.5L159.0 542.5Z"/><path d="M225.2 542.2L228.7 548.5L221.7 548.5Z"/><path d="M227.5 464.8L231.0 471.1L224.0 471.1Z"/><path d="M256.9 541.0L260.4 547.3L253.4 547.3Z"/><path d="M322.3 498.6L325.8 504.9L318.8 504.9Z"/><path d="M338.4 498.3L341.9 504.6L334.9 504.6Z"/><path d="M315.0 507.8L318.5 514.1L311.5 514.1Z"/><path d="M328.2 508.8L331.7 515.1L324.7 515.1Z"/><path d="M320.1 513.0L323.6 519.3L316.6 519.3Z"/><path d="M305.7 523.9L309.2 530.2L302.2 530.2Z"/><path d="M316.2 526.1L319.7 532.4L312.7 532.4Z"/><path d="M316.2 528.6L319.7 534.9L312.7 534.9Z"/><path d="M310.5 531.1L314.0 537.4L307.0 537.4Z"/><path d="M313.9 535.7L317.4 542.0L310.4 542.0Z"/><path d="M319.8 537.9L323.3 544.2L316.3 544.2Z"/><path d="M326.9 536.5L330.4 542.8L323.4 542.8Z"/><path d="M312.0 540.8L315.5 547.1L308.5 547.1Z"/><path d="M315.5 545.9L319.0 552.2L312.0 552.2Z"/><path d="M314.3 557.2L317.8 563.5L310.8 563.5Z"/><path d="M325.2 563.7L328.7 570.0L321.7 570.0Z"/><path d="M325.8 566.2L329.3 572.5L322.3 572.5Z"/><path d="M334.4 523.5L337.9 529.8L330.9 529.8Z"/><path d="M344.1 515.9L347.6 522.2L340.6 522.2Z"/><path d="M374.9 517.6L378.4 523.9L371.4 523.9Z"/><path d="M342.4 524.4L345.9 530.7L338.9 530.7Z"/><path d="M358.3 531.1L361.8 537.4L354.8 537.4Z"/><path d="M375.4 543.0L378.9 549.3L371.9 549.3Z"/><path d="M359.3 543.8L362.8 550.1L355.8 550.1Z"/><path d="M352.9 544.7L356.4 551.0L349.4 551.0Z"/><path d="M346.1 547.7L349.6 554.0L342.6 554.0Z"/><path d="M356.3 548.1L359.8 554.4L352.8 554.4Z"/><path d="M352.1 547.2L355.6 553.5L348.6 553.5Z"/><path d="M356.0 551.4L359.5 557.7L352.5 557.7Z"/><path d="M345.0 553.5L348.5 559.8L341.5 559.8Z"/><path d="M367.4 561.2L370.9 567.5L363.9 567.5Z"/><path d="M349.3 563.4L352.8 569.7L345.8 569.7Z"/><path d="M356.5 566.5L360.0 572.8L353.0 572.8Z"/><path d="M387.8 564.5L391.3 570.8L384.3 570.8Z"/><path d="M399.2 565.7L402.7 572.0L395.7 572.0Z"/><path d="M384.0 571.0L387.5 577.3L380.5 577.3Z"/><path d="M375.2 575.7L378.7 582.0L371.7 582.0Z"/><path d="M370.2 463.9L373.7 470.2L366.7 470.2Z"/><path d="M409.3 522.2L412.8 528.5L405.8 528.5Z"/><path d="M427.4 538.9L430.9 545.2L423.9 545.2Z"/><path d="M419.6 552.6L423.1 558.9L416.1 558.9Z"/><path d="M316.1 546.1L319.6 552.4L312.6 552.4Z"/><path d="M346.0 548.2L349.5 554.5L342.5 554.5Z"/><path d="M349.4 601.4L352.9 607.7L345.9 607.7Z"/><path d="M354.2 600.8L357.7 607.1L350.7 607.1Z"/></g>
<g fill="#069006" stroke="#000" stroke-width="0.95" stroke-linejoin="miter"><circle cx="257.1" cy="145.6" r="3.5"/></g>
<g fill="#08929a" stroke="#000" stroke-width="0.95" stroke-linejoin="miter"><path d="M257.1 160.7L260.6 154.6L253.6 154.6Z"/></g>
<g fill="#044c9c" stroke="#000" stroke-width="0.95" stroke-linejoin="miter"><rect x="254.1" y="163.5" width="6" height="6"/></g>
<g fill="#980698" stroke="#000" stroke-width="0.95" stroke-linejoin="miter"><path d="M257.1 172.9L261.2 177.0L257.1 181.1L253.0 177.0Z"/></g>
<g fill="#8e0808" stroke="#000" stroke-width="0.95" stroke-linejoin="miter"><path d="M257.1 183.3L260.6 189.6L253.6 189.6Z"/></g>
<text x="273" y="149.1" font-size="9.3">Giants</text>
<text x="273" y="159.5" font-size="9.3">Dwarfs</text>
<text x="273" y="169.9" font-size="9.3">T &gt; 6025 K</text>
<text x="273" y="180.3" font-size="9.3">No Parallax - Assumed Mass / Gravity</text>
<text x="273" y="190.7" font-size="9.3">Broadening &gt; 40 km/s</text>
<path d="M42.5 0V627.3H461.0" fill="none" stroke="#1a1a1a" stroke-width="1.2"/><path d="M461.0 0V627.3" fill="none" stroke="#1a1a1a" stroke-width="1.1"/><path d="M41.9 0.5H461.5" fill="none" stroke="#000" stroke-width="1.2"/><path d="M42.5 209.4H461.0M42.5 418.4H461.0" fill="none" stroke="#1a1a1a" stroke-width="1"/><path d="M126.2 0.5v4.6M126.2 204.8v9.2M126.2 413.79999999999995v9.2M126.2 627.3v-4.6M209.9 0.5v4.6M209.9 204.8v9.2M209.9 413.79999999999995v9.2M209.9 627.3v-4.6M293.6 0.5v4.6M293.6 204.8v9.2M293.6 413.79999999999995v9.2M293.6 627.3v-4.6M377.3 0.5v4.6M377.3 204.8v9.2M377.3 413.79999999999995v9.2M377.3 627.3v-4.6M42.5 30.7h4.6M461.0 30.7h-4.6M42.5 61.0h4.6M461.0 61.0h-4.6M42.5 91.4h4.6M461.0 91.4h-4.6M42.5 121.7h4.6M461.0 121.7h-4.6M42.5 152.0h4.6M461.0 152.0h-4.6M42.5 182.3h4.6M461.0 182.3h-4.6M42.5 230.4h4.6M461.0 230.4h-4.6M42.5 272.2h4.6M461.0 272.2h-4.6M42.5 314.1h4.6M461.0 314.1h-4.6M42.5 355.9h4.6M461.0 355.9h-4.6M42.5 397.7h4.6M461.0 397.7h-4.6M42.5 435.9h4.6M461.0 435.9h-4.6M42.5 470.8h4.6M461.0 470.8h-4.6M42.5 505.6h4.6M461.0 505.6h-4.6M42.5 540.5h4.6M461.0 540.5h-4.6M42.5 575.3h4.6M461.0 575.3h-4.6M42.5 610.2h4.6M461.0 610.2h-4.6" fill="none" stroke="#1a1a1a" stroke-width="0.9"/>
<text x="36.6" y="34.6" text-anchor="end" font-size="11.5">5</text><text x="36.6" y="64.9" text-anchor="end" font-size="11.5">4</text><text x="36.6" y="95.3" text-anchor="end" font-size="11.5">3</text><text x="36.6" y="125.6" text-anchor="end" font-size="11.5">2</text><text x="36.6" y="155.9" text-anchor="end" font-size="11.5">1</text><text x="36.6" y="186.2" text-anchor="end" font-size="11.5">0</text><text x="36.6" y="234.3" text-anchor="end" font-size="11.5">1.0</text><text x="36.6" y="276.1" text-anchor="end" font-size="11.5">0.5</text><text x="36.6" y="318.0" text-anchor="end" font-size="11.5">0.0</text><text x="36.6" y="359.8" text-anchor="end" font-size="11.5">-0.5</text><text x="36.6" y="401.6" text-anchor="end" font-size="11.5">-1.0</text><text x="36.6" y="439.8" text-anchor="end" font-size="11.5">3</text><text x="36.6" y="474.7" text-anchor="end" font-size="11.5">2</text><text x="36.6" y="509.5" text-anchor="end" font-size="11.5">1</text><text x="36.6" y="544.4" text-anchor="end" font-size="11.5">0</text><text x="36.6" y="579.2" text-anchor="end" font-size="11.5">-1</text><text x="36.6" y="614.1" text-anchor="end" font-size="11.5">-2</text><text x="42.5" y="642.9" text-anchor="middle" font-size="11.5">3000</text><text x="126.2" y="642.9" text-anchor="middle" font-size="11.5">4000</text><text x="209.9" y="642.9" text-anchor="middle" font-size="11.5">5000</text><text x="293.6" y="642.9" text-anchor="middle" font-size="11.5">6000</text><text x="377.3" y="642.9" text-anchor="middle" font-size="11.5">7000</text><text x="461.0" y="642.9" text-anchor="middle" font-size="11.5">8000</text>
<text transform="translate(19.8 105.6) rotate(-90)" text-anchor="middle" font-size="14">log <tspan font-style="italic">g</tspan><tspan font-style="italic" font-size="10.5" dy="3">P</tspan></text>
<text transform="translate(10.5 314.9) rotate(-90)" text-anchor="middle" font-size="14">Fe I - Fe II</text>
<text transform="translate(17.0 524.2) rotate(-90)" text-anchor="middle" font-size="14">log <tspan font-style="italic">g</tspan><tspan font-style="italic" font-size="10.5" dy="3">P</tspan><tspan dy="-3"> - log </tspan><tspan font-style="italic">g</tspan><tspan font-style="italic" font-size="10.5" dy="3">S</tspan></text>
<text x="250.6" y="661.9" text-anchor="middle" font-size="14">Effective Temperature (K)</text>
</svg></body></html>
